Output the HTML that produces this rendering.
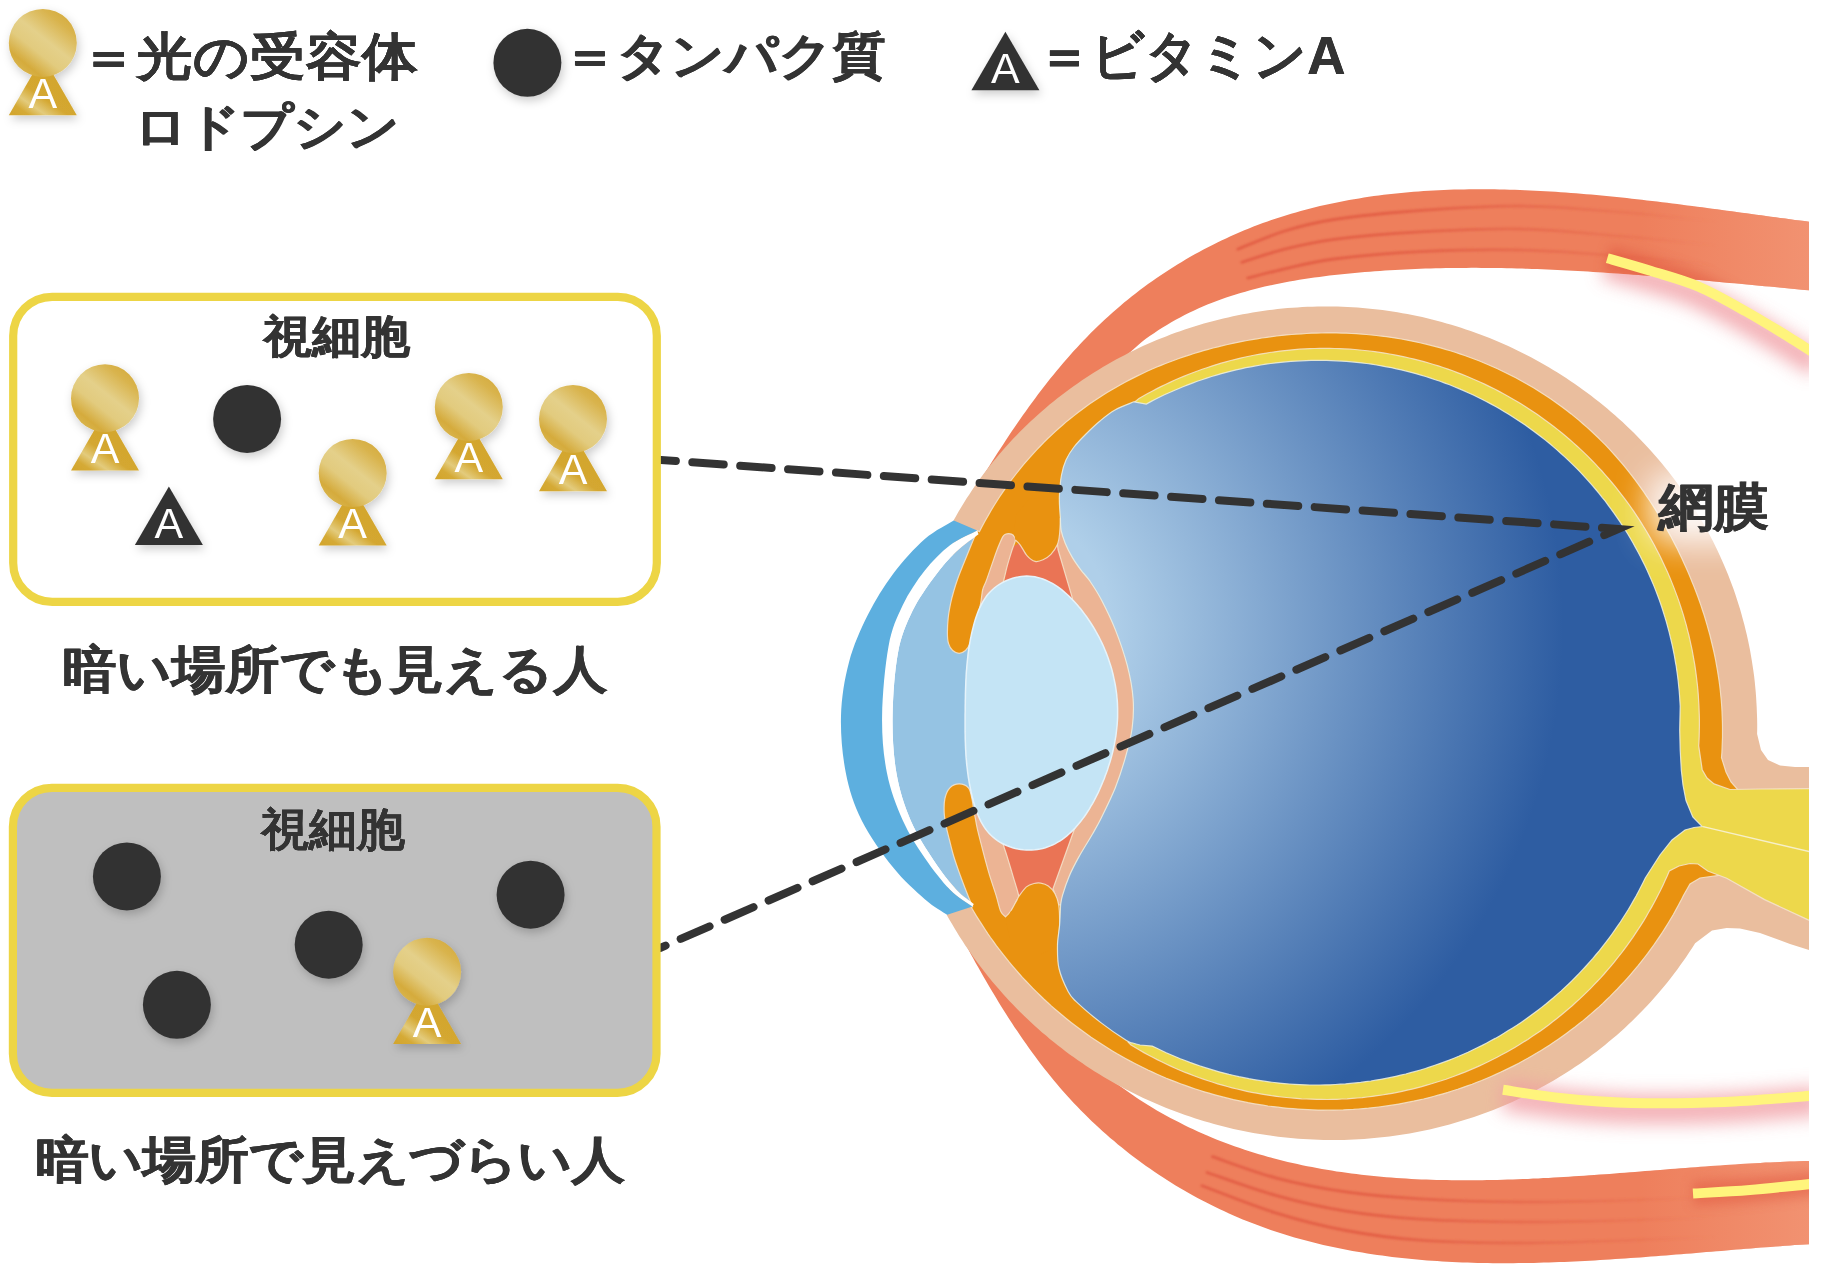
<!DOCTYPE html><html><head><meta charset="utf-8"><title>視細胞とロドプシン</title><style>
html,body{margin:0;padding:0;background:#FFFFFF;}
body{width:1822px;height:1265px;position:relative;overflow:hidden;font-family:"Liberation Sans",sans-serif;}
svg{position:absolute;left:0;top:0;}
.A{font-family:"Liberation Sans",sans-serif;font-size:43px;fill:#FFFFFF;}
.t{position:absolute;transform-origin:0 0;white-space:nowrap;color:#333333;font-weight:bold;line-height:1;text-shadow:0.3px 0 0 #333,-0.3px 0 0 #333;}
</style></head><body>
<svg width="1822" height="1265" viewBox="0 0 1822 1265">
<defs>
<radialGradient id="vg" gradientUnits="userSpaceOnUse" cx="987" cy="627" r="576">
<stop offset="0.215" stop-color="#AFCFE9"/><stop offset="1" stop-color="#2E5DA2"/>
</radialGradient>
<linearGradient id="gc" x1="0.85" y1="0.08" x2="0.18" y2="0.92">
<stop offset="0" stop-color="#D5AC3E"/><stop offset="0.15" stop-color="#D9B44E"/><stop offset="0.45" stop-color="#E4D08A"/>
<stop offset="0.65" stop-color="#E2CB7E"/><stop offset="0.88" stop-color="#D5AB3C"/><stop offset="1" stop-color="#D9B54E"/>
</linearGradient>
<linearGradient id="gt" x1="0.9" y1="0" x2="0.1" y2="1">
<stop offset="0" stop-color="#D9B54A"/><stop offset="0.35" stop-color="#D3A62E"/><stop offset="0.62" stop-color="#D4A730"/>
<stop offset="0.78" stop-color="#E3CB7C"/><stop offset="0.9" stop-color="#D5AA36"/><stop offset="1" stop-color="#D3A62E"/>
</linearGradient>
<radialGradient id="lg" gradientUnits="userSpaceOnUse" cx="1712" cy="508" r="100">
<stop offset="0" stop-color="#FFFFFF" stop-opacity="1"/><stop offset="0.5" stop-color="#FFFFFF" stop-opacity="0.95"/>
<stop offset="1" stop-color="#FFFFFF" stop-opacity="0"/>
</radialGradient>
<linearGradient id="mg" gradientUnits="userSpaceOnUse" x1="1640" y1="0" x2="1809" y2="0">
<stop offset="0" stop-color="#F39A7A" stop-opacity="0"/><stop offset="1" stop-color="#F39A7A" stop-opacity="1"/>
</linearGradient>
<filter id="sh" x="-30%" y="-30%" width="160%" height="160%">
<feDropShadow dx="2" dy="4" stdDeviation="5" flood-color="#000" flood-opacity="0.2"/>
</filter>
<filter id="bl6" filterUnits="userSpaceOnUse" x="800" y="0" width="1022" height="1265"><feGaussianBlur stdDeviation="6"/></filter>
<filter id="bl12" filterUnits="userSpaceOnUse" x="800" y="0" width="1022" height="1265"><feGaussianBlur stdDeviation="17"/></filter>
<filter id="bl9" filterUnits="userSpaceOnUse" x="800" y="0" width="1022" height="1265"><feGaussianBlur stdDeviation="9"/></filter>
<filter id="bl2" filterUnits="userSpaceOnUse" x="800" y="0" width="1022" height="1265"><feGaussianBlur stdDeviation="1.2"/></filter>
<linearGradient id="sg" gradientUnits="userSpaceOnUse" x1="1380" y1="0" x2="1720" y2="0"><stop offset="0" stop-color="#E0563F" stop-opacity="0.8"/><stop offset="1" stop-color="#E0563F" stop-opacity="0"/></linearGradient>
<clipPath id="midclip"><rect x="1300" y="1000" width="520" height="163"/></clipPath>
<clipPath id="eyeclip"><rect x="0" y="0" width="1809" height="1265"/></clipPath>
<clipPath id="tmclip"><path d="M979.3,482.0L981.9,477.8L984.5,473.6L987.1,469.4L989.8,465.2L992.4,461.0L995.1,456.8L997.8,452.6L1000.5,448.4L1003.3,444.2L1006.0,440.0L1008.8,435.8L1011.6,431.6L1014.4,427.5L1017.3,423.3L1020.1,419.2L1023.0,415.0L1026.0,410.9L1028.9,406.8L1031.9,402.8L1034.9,398.7L1037.9,394.6L1041.0,390.6L1044.1,386.6L1047.2,382.6L1050.3,378.6L1053.5,374.7L1056.7,370.8L1059.9,366.9L1063.2,363.0L1066.5,359.2L1069.8,355.4L1073.2,351.6L1076.6,347.9L1080.0,344.2L1083.5,340.5L1087.0,336.9L1090.5,333.3L1094.1,329.7L1097.7,326.2L1101.4,322.7L1105.1,319.3L1108.8,315.9L1112.6,312.5L1116.4,309.2L1120.2,305.9L1124.1,302.6L1128.0,299.5L1131.9,296.3L1135.9,293.2L1139.9,290.1L1144.0,287.1L1148.0,284.1L1152.1,281.2L1156.3,278.3L1160.4,275.5L1164.6,272.7L1168.8,269.9L1173.1,267.2L1177.4,264.5L1181.7,261.9L1186.0,259.3L1190.3,256.8L1194.7,254.3L1199.1,251.9L1203.5,249.5L1208.0,247.2L1212.5,244.9L1216.9,242.7L1221.4,240.5L1226.0,238.4L1230.5,236.3L1235.1,234.3L1239.7,232.3L1244.3,230.3L1248.9,228.5L1253.5,226.6L1258.2,224.8L1262.8,223.1L1267.5,221.4L1272.2,219.8L1276.9,218.2L1281.7,216.7L1286.4,215.2L1291.1,213.8L1295.9,212.4L1300.7,211.0L1305.5,209.7L1310.3,208.5L1315.1,207.3L1319.9,206.1L1324.8,205.0L1329.6,203.9L1334.5,202.9L1339.4,201.9L1344.2,201.0L1349.1,200.1L1354.0,199.2L1359.0,198.4L1363.9,197.6L1368.8,196.8L1373.8,196.1L1378.7,195.5L1383.7,194.8L1388.6,194.2L1393.6,193.7L1398.6,193.2L1403.6,192.7L1408.6,192.2L1413.6,191.8L1418.6,191.4L1423.6,191.1L1428.7,190.7L1433.7,190.5L1438.7,190.2L1443.8,190.0L1448.8,189.8L1453.9,189.6L1458.9,189.5L1464.0,189.4L1469.1,189.3L1474.2,189.3L1479.2,189.2L1484.3,189.2L1489.4,189.3L1494.5,189.3L1499.6,189.4L1504.7,189.5L1509.7,189.7L1514.8,189.8L1519.9,190.0L1525.0,190.2L1530.1,190.4L1535.2,190.7L1540.3,190.9L1545.4,191.2L1550.5,191.5L1555.6,191.8L1560.7,192.2L1565.8,192.5L1570.9,192.9L1576.0,193.3L1581.1,193.7L1586.2,194.2L1591.3,194.6L1596.4,195.1L1601.4,195.6L1606.5,196.1L1611.6,196.6L1616.7,197.1L1621.8,197.6L1626.8,198.1L1631.9,198.7L1636.9,199.3L1642.0,199.8L1647.0,200.4L1652.1,201.0L1657.1,201.6L1662.1,202.2L1667.2,202.8L1672.2,203.5L1677.2,204.1L1682.2,204.7L1687.2,205.4L1692.2,206.0L1697.2,206.7L1702.2,207.3L1707.1,208.0L1712.1,208.7L1717.0,209.3L1722.0,210.0L1726.9,210.7L1731.8,211.3L1736.7,212.0L1741.6,212.7L1746.5,213.3L1751.4,214.0L1756.3,214.7L1761.1,215.3L1766.0,216.0L1770.8,216.7L1775.6,217.3L1780.4,218.0L1785.2,218.6L1790.0,219.2L1794.8,219.9L1799.6,220.5L1804.3,221.1L1809.0,221.7L1813.8,222.3L1814.6,290.8L1809.6,290.3L1804.7,289.9L1799.7,289.4L1794.7,289.0L1789.7,288.5L1784.7,288.0L1779.7,287.6L1774.7,287.1L1769.7,286.6L1764.7,286.2L1759.7,285.7L1754.7,285.2L1749.7,284.7L1744.6,284.3L1739.6,283.8L1734.6,283.3L1729.6,282.9L1724.5,282.4L1719.5,281.9L1714.5,281.5L1709.4,281.0L1704.4,280.6L1699.4,280.1L1694.3,279.7L1689.3,279.2L1684.2,278.8L1679.2,278.3L1674.1,277.9L1669.1,277.5L1664.0,277.1L1659.0,276.6L1653.9,276.2L1648.9,275.8L1643.8,275.4L1638.7,275.0L1633.7,274.7L1628.6,274.3L1623.5,273.9L1618.5,273.6L1613.4,273.2L1608.3,272.9L1603.3,272.5L1598.2,272.2L1593.1,271.9L1588.0,271.6L1583.0,271.3L1577.9,271.0L1572.8,270.7L1567.7,270.4L1562.6,270.2L1557.6,269.9L1552.5,269.7L1547.4,269.5L1542.3,269.3L1537.3,269.1L1532.2,268.9L1527.1,268.7L1522.0,268.6L1516.9,268.4L1511.8,268.3L1506.8,268.2L1501.7,268.1L1496.6,268.0L1491.5,268.0L1486.4,267.9L1481.4,267.9L1476.3,267.8L1471.2,267.8L1466.1,267.9L1461.0,267.9L1456.0,267.9L1450.9,268.0L1445.8,268.1L1440.7,268.2L1435.7,268.3L1430.6,268.4L1425.5,268.6L1420.4,268.8L1415.4,269.0L1410.3,269.2L1405.2,269.4L1400.2,269.7L1395.1,270.0L1390.0,270.3L1385.0,270.6L1379.9,270.9L1374.8,271.3L1369.8,271.7L1364.7,272.1L1359.7,272.5L1354.6,273.0L1349.6,273.4L1344.5,273.9L1339.5,274.5L1334.4,275.0L1329.4,275.6L1324.4,276.2L1319.3,276.9L1314.3,277.6L1309.3,278.3L1304.3,279.0L1299.3,279.8L1294.3,280.7L1289.4,281.6L1284.4,282.5L1279.5,283.4L1274.5,284.5L1269.6,285.5L1264.7,286.6L1259.8,287.8L1255.0,289.0L1250.1,290.3L1245.3,291.7L1240.5,293.1L1235.7,294.5L1230.9,296.0L1226.2,297.6L1221.4,299.3L1216.7,301.0L1212.1,302.8L1207.4,304.6L1202.8,306.6L1198.2,308.6L1193.6,310.7L1189.1,312.8L1184.6,315.1L1180.1,317.4L1175.7,319.8L1171.3,322.3L1166.9,324.9L1162.6,327.5L1158.2,330.3L1154.0,333.2L1149.7,336.1L1145.5,339.1L1141.4,342.3L1110,370L1060,410L1015,448Z"/></clipPath>
<clipPath id="bmclip"><path d="M966.2,945.5L968.5,949.8L970.9,954.2L973.3,958.6L975.7,962.9L978.2,967.3L980.6,971.6L983.1,976.0L985.6,980.3L988.2,984.7L990.7,989.0L993.3,993.3L995.9,997.6L998.5,1001.9L1001.1,1006.2L1003.8,1010.5L1006.5,1014.8L1009.2,1019.0L1012.0,1023.2L1014.7,1027.4L1017.6,1031.6L1020.4,1035.8L1023.3,1040.0L1026.2,1044.1L1029.1,1048.2L1032.0,1052.3L1035.0,1056.3L1038.1,1060.4L1041.1,1064.4L1044.2,1068.4L1047.3,1072.3L1050.5,1076.3L1053.7,1080.2L1056.9,1084.0L1060.2,1087.9L1063.5,1091.7L1066.9,1095.5L1070.3,1099.2L1073.7,1102.9L1077.2,1106.6L1080.7,1110.2L1084.3,1113.8L1087.8,1117.3L1091.5,1120.9L1095.1,1124.3L1098.9,1127.8L1102.6,1131.2L1106.4,1134.5L1110.2,1137.9L1114.1,1141.1L1117.9,1144.4L1121.9,1147.6L1125.8,1150.7L1129.8,1153.9L1133.8,1156.9L1137.9,1160.0L1141.9,1163.0L1146.0,1165.9L1150.2,1168.8L1154.4,1171.7L1158.5,1174.5L1162.8,1177.3L1167.0,1180.0L1171.3,1182.7L1175.6,1185.4L1179.9,1187.9L1184.3,1190.5L1188.6,1193.0L1193.0,1195.5L1197.5,1197.9L1201.9,1200.2L1206.4,1202.6L1210.8,1204.8L1215.3,1207.0L1219.9,1209.2L1224.4,1211.3L1229.0,1213.4L1233.5,1215.4L1238.1,1217.4L1242.7,1219.4L1247.4,1221.2L1252.0,1223.1L1256.7,1224.8L1261.3,1226.6L1266.0,1228.2L1270.7,1229.9L1275.4,1231.5L1280.1,1233.0L1284.9,1234.5L1289.6,1236.0L1294.4,1237.4L1299.2,1238.7L1304.0,1240.0L1308.8,1241.3L1313.6,1242.5L1318.4,1243.7L1323.2,1244.9L1328.1,1246.0L1333.0,1247.1L1337.8,1248.1L1342.7,1249.1L1347.6,1250.0L1352.5,1250.9L1357.4,1251.8L1362.3,1252.6L1367.3,1253.5L1372.2,1254.2L1377.2,1254.9L1382.1,1255.6L1387.1,1256.3L1392.1,1256.9L1397.0,1257.5L1402.0,1258.1L1407.0,1258.6L1412.0,1259.1L1417.1,1259.6L1422.1,1260.0L1427.1,1260.4L1432.1,1260.8L1437.2,1261.1L1442.2,1261.4L1447.3,1261.7L1452.3,1262.0L1457.4,1262.2L1462.4,1262.4L1467.5,1262.6L1472.6,1262.8L1477.6,1262.9L1482.7,1263.0L1487.8,1263.1L1492.9,1263.2L1498.0,1263.2L1503.1,1263.2L1508.2,1263.2L1513.3,1263.2L1518.4,1263.1L1523.5,1263.1L1528.6,1263.0L1533.7,1262.9L1538.8,1262.8L1543.9,1262.6L1549.0,1262.5L1554.1,1262.3L1559.2,1262.1L1564.3,1261.9L1569.4,1261.7L1574.5,1261.5L1579.6,1261.2L1584.7,1261.0L1589.8,1260.7L1594.9,1260.4L1600.0,1260.1L1605.1,1259.8L1610.2,1259.5L1615.3,1259.1L1620.4,1258.8L1625.4,1258.5L1630.5,1258.1L1635.6,1257.7L1640.7,1257.4L1645.7,1257.0L1650.8,1256.6L1655.9,1256.2L1660.9,1255.8L1666.0,1255.4L1671.0,1255.0L1676.0,1254.6L1681.1,1254.2L1686.1,1253.8L1691.1,1253.4L1696.1,1252.9L1701.1,1252.5L1706.1,1252.1L1711.1,1251.7L1716.1,1251.3L1721.1,1250.9L1726.0,1250.4L1731.0,1250.0L1736.0,1249.6L1740.9,1249.2L1745.8,1248.8L1750.7,1248.4L1755.7,1248.0L1760.6,1247.6L1765.5,1247.3L1770.3,1246.9L1775.2,1246.5L1780.1,1246.2L1784.9,1245.8L1789.8,1245.5L1794.6,1245.1L1799.4,1244.8L1804.2,1244.5L1809.0,1244.2L1813.8,1243.9L1814.2,1160.9L1809.3,1161.0L1804.5,1161.1L1799.6,1161.2L1794.7,1161.4L1789.8,1161.6L1784.9,1161.7L1780.0,1162.0L1775.1,1162.2L1770.2,1162.4L1765.3,1162.6L1760.3,1162.9L1755.4,1163.2L1750.4,1163.5L1745.5,1163.7L1740.5,1164.1L1735.5,1164.4L1730.5,1164.7L1725.6,1165.0L1720.6,1165.4L1715.6,1165.7L1710.6,1166.1L1705.5,1166.4L1700.5,1166.8L1695.5,1167.2L1690.5,1167.6L1685.5,1168.0L1680.4,1168.3L1675.4,1168.7L1670.3,1169.1L1665.3,1169.5L1660.2,1169.9L1655.2,1170.3L1650.1,1170.7L1645.0,1171.1L1640.0,1171.5L1634.9,1171.9L1629.8,1172.3L1624.7,1172.7L1619.7,1173.1L1614.6,1173.5L1609.5,1173.9L1604.4,1174.2L1599.3,1174.6L1594.2,1175.0L1589.1,1175.3L1584.0,1175.7L1578.9,1176.0L1573.8,1176.3L1568.7,1176.7L1563.7,1177.0L1558.6,1177.3L1553.5,1177.6L1548.4,1177.9L1543.3,1178.1L1538.2,1178.4L1533.1,1178.6L1528.0,1178.9L1522.9,1179.1L1517.8,1179.3L1512.7,1179.5L1507.6,1179.6L1502.5,1179.8L1497.4,1179.9L1492.3,1180.0L1487.2,1180.1L1482.2,1180.2L1477.1,1180.2L1472.0,1180.3L1466.9,1180.3L1461.8,1180.3L1456.8,1180.3L1451.7,1180.2L1446.7,1180.1L1441.6,1180.0L1436.5,1179.9L1431.5,1179.8L1426.5,1179.6L1421.4,1179.4L1416.4,1179.2L1411.3,1178.9L1406.3,1178.6L1401.3,1178.3L1396.3,1178.0L1391.3,1177.6L1386.3,1177.2L1381.3,1176.8L1376.3,1176.3L1371.3,1175.8L1366.3,1175.3L1361.4,1174.7L1356.4,1174.1L1351.4,1173.5L1346.5,1172.8L1341.5,1172.1L1336.6,1171.4L1331.7,1170.6L1326.8,1169.8L1321.9,1169.0L1316.9,1168.1L1312.1,1167.1L1307.2,1166.2L1302.3,1165.2L1297.4,1164.1L1292.6,1163.0L1287.7,1161.9L1282.9,1160.7L1278.1,1159.5L1273.3,1158.2L1268.4,1156.9L1263.7,1155.6L1258.9,1154.2L1254.1,1152.7L1249.3,1151.2L1244.6,1149.7L1239.9,1148.1L1235.1,1146.4L1230.4,1144.7L1225.7,1143.0L1221.0,1141.2L1216.4,1139.4L1211.7,1137.5L1207.1,1135.5L1202.4,1133.5L1197.8,1131.4L1193.2,1129.3L1188.6,1127.2L1184.1,1124.9L1179.5,1122.6L1175.0,1120.3L1170.4,1117.9L1165.9,1115.4L1161.4,1112.9L1156.9,1110.4L1152.5,1107.7L1148.0,1105.0L1143.6,1102.3L1139.2,1099.4L1134.8,1096.6L1100,1072L1050,1030L1000,985Z"/></clipPath>
</defs>
<rect x="13.2" y="296.8" width="643.6" height="305.1" rx="39" fill="#FFFFFF"/>
<rect x="12.9" y="787.8" width="643.6" height="305" rx="39" fill="#BFBFBF"/>
<g clip-path="url(#eyeclip)">
<path d="M1607.3,258.2C1614.6,260.3 1636,266.3 1651.2,271C1666.4,275.7 1682.8,279.9 1698.6,286.6C1714.4,293.4 1730.2,302.6 1746,311.5C1761.8,320.4 1781.2,332.4 1793.5,340C1805.8,347.6 1815.6,354.2 1820,357" fill="none" stroke="#F09AA0" stroke-width="24" opacity="0.8" filter="url(#bl9)" transform="translate(-3,8)"/>
<path d="M979.3,482.0L981.9,477.8L984.5,473.6L987.1,469.4L989.8,465.2L992.4,461.0L995.1,456.8L997.8,452.6L1000.5,448.4L1003.3,444.2L1006.0,440.0L1008.8,435.8L1011.6,431.6L1014.4,427.5L1017.3,423.3L1020.1,419.2L1023.0,415.0L1026.0,410.9L1028.9,406.8L1031.9,402.8L1034.9,398.7L1037.9,394.6L1041.0,390.6L1044.1,386.6L1047.2,382.6L1050.3,378.6L1053.5,374.7L1056.7,370.8L1059.9,366.9L1063.2,363.0L1066.5,359.2L1069.8,355.4L1073.2,351.6L1076.6,347.9L1080.0,344.2L1083.5,340.5L1087.0,336.9L1090.5,333.3L1094.1,329.7L1097.7,326.2L1101.4,322.7L1105.1,319.3L1108.8,315.9L1112.6,312.5L1116.4,309.2L1120.2,305.9L1124.1,302.6L1128.0,299.5L1131.9,296.3L1135.9,293.2L1139.9,290.1L1144.0,287.1L1148.0,284.1L1152.1,281.2L1156.3,278.3L1160.4,275.5L1164.6,272.7L1168.8,269.9L1173.1,267.2L1177.4,264.5L1181.7,261.9L1186.0,259.3L1190.3,256.8L1194.7,254.3L1199.1,251.9L1203.5,249.5L1208.0,247.2L1212.5,244.9L1216.9,242.7L1221.4,240.5L1226.0,238.4L1230.5,236.3L1235.1,234.3L1239.7,232.3L1244.3,230.3L1248.9,228.5L1253.5,226.6L1258.2,224.8L1262.8,223.1L1267.5,221.4L1272.2,219.8L1276.9,218.2L1281.7,216.7L1286.4,215.2L1291.1,213.8L1295.9,212.4L1300.7,211.0L1305.5,209.7L1310.3,208.5L1315.1,207.3L1319.9,206.1L1324.8,205.0L1329.6,203.9L1334.5,202.9L1339.4,201.9L1344.2,201.0L1349.1,200.1L1354.0,199.2L1359.0,198.4L1363.9,197.6L1368.8,196.8L1373.8,196.1L1378.7,195.5L1383.7,194.8L1388.6,194.2L1393.6,193.7L1398.6,193.2L1403.6,192.7L1408.6,192.2L1413.6,191.8L1418.6,191.4L1423.6,191.1L1428.7,190.7L1433.7,190.5L1438.7,190.2L1443.8,190.0L1448.8,189.8L1453.9,189.6L1458.9,189.5L1464.0,189.4L1469.1,189.3L1474.2,189.3L1479.2,189.2L1484.3,189.2L1489.4,189.3L1494.5,189.3L1499.6,189.4L1504.7,189.5L1509.7,189.7L1514.8,189.8L1519.9,190.0L1525.0,190.2L1530.1,190.4L1535.2,190.7L1540.3,190.9L1545.4,191.2L1550.5,191.5L1555.6,191.8L1560.7,192.2L1565.8,192.5L1570.9,192.9L1576.0,193.3L1581.1,193.7L1586.2,194.2L1591.3,194.6L1596.4,195.1L1601.4,195.6L1606.5,196.1L1611.6,196.6L1616.7,197.1L1621.8,197.6L1626.8,198.1L1631.9,198.7L1636.9,199.3L1642.0,199.8L1647.0,200.4L1652.1,201.0L1657.1,201.6L1662.1,202.2L1667.2,202.8L1672.2,203.5L1677.2,204.1L1682.2,204.7L1687.2,205.4L1692.2,206.0L1697.2,206.7L1702.2,207.3L1707.1,208.0L1712.1,208.7L1717.0,209.3L1722.0,210.0L1726.9,210.7L1731.8,211.3L1736.7,212.0L1741.6,212.7L1746.5,213.3L1751.4,214.0L1756.3,214.7L1761.1,215.3L1766.0,216.0L1770.8,216.7L1775.6,217.3L1780.4,218.0L1785.2,218.6L1790.0,219.2L1794.8,219.9L1799.6,220.5L1804.3,221.1L1809.0,221.7L1813.8,222.3L1814.6,290.8L1809.6,290.3L1804.7,289.9L1799.7,289.4L1794.7,289.0L1789.7,288.5L1784.7,288.0L1779.7,287.6L1774.7,287.1L1769.7,286.6L1764.7,286.2L1759.7,285.7L1754.7,285.2L1749.7,284.7L1744.6,284.3L1739.6,283.8L1734.6,283.3L1729.6,282.9L1724.5,282.4L1719.5,281.9L1714.5,281.5L1709.4,281.0L1704.4,280.6L1699.4,280.1L1694.3,279.7L1689.3,279.2L1684.2,278.8L1679.2,278.3L1674.1,277.9L1669.1,277.5L1664.0,277.1L1659.0,276.6L1653.9,276.2L1648.9,275.8L1643.8,275.4L1638.7,275.0L1633.7,274.7L1628.6,274.3L1623.5,273.9L1618.5,273.6L1613.4,273.2L1608.3,272.9L1603.3,272.5L1598.2,272.2L1593.1,271.9L1588.0,271.6L1583.0,271.3L1577.9,271.0L1572.8,270.7L1567.7,270.4L1562.6,270.2L1557.6,269.9L1552.5,269.7L1547.4,269.5L1542.3,269.3L1537.3,269.1L1532.2,268.9L1527.1,268.7L1522.0,268.6L1516.9,268.4L1511.8,268.3L1506.8,268.2L1501.7,268.1L1496.6,268.0L1491.5,268.0L1486.4,267.9L1481.4,267.9L1476.3,267.8L1471.2,267.8L1466.1,267.9L1461.0,267.9L1456.0,267.9L1450.9,268.0L1445.8,268.1L1440.7,268.2L1435.7,268.3L1430.6,268.4L1425.5,268.6L1420.4,268.8L1415.4,269.0L1410.3,269.2L1405.2,269.4L1400.2,269.7L1395.1,270.0L1390.0,270.3L1385.0,270.6L1379.9,270.9L1374.8,271.3L1369.8,271.7L1364.7,272.1L1359.7,272.5L1354.6,273.0L1349.6,273.4L1344.5,273.9L1339.5,274.5L1334.4,275.0L1329.4,275.6L1324.4,276.2L1319.3,276.9L1314.3,277.6L1309.3,278.3L1304.3,279.0L1299.3,279.8L1294.3,280.7L1289.4,281.6L1284.4,282.5L1279.5,283.4L1274.5,284.5L1269.6,285.5L1264.7,286.6L1259.8,287.8L1255.0,289.0L1250.1,290.3L1245.3,291.7L1240.5,293.1L1235.7,294.5L1230.9,296.0L1226.2,297.6L1221.4,299.3L1216.7,301.0L1212.1,302.8L1207.4,304.6L1202.8,306.6L1198.2,308.6L1193.6,310.7L1189.1,312.8L1184.6,315.1L1180.1,317.4L1175.7,319.8L1171.3,322.3L1166.9,324.9L1162.6,327.5L1158.2,330.3L1154.0,333.2L1149.7,336.1L1145.5,339.1L1141.4,342.3L1110,370L1060,410L1015,448Z" fill="#EE7F5C"/>
<path d="M966.2,945.5L968.5,949.8L970.9,954.2L973.3,958.6L975.7,962.9L978.2,967.3L980.6,971.6L983.1,976.0L985.6,980.3L988.2,984.7L990.7,989.0L993.3,993.3L995.9,997.6L998.5,1001.9L1001.1,1006.2L1003.8,1010.5L1006.5,1014.8L1009.2,1019.0L1012.0,1023.2L1014.7,1027.4L1017.6,1031.6L1020.4,1035.8L1023.3,1040.0L1026.2,1044.1L1029.1,1048.2L1032.0,1052.3L1035.0,1056.3L1038.1,1060.4L1041.1,1064.4L1044.2,1068.4L1047.3,1072.3L1050.5,1076.3L1053.7,1080.2L1056.9,1084.0L1060.2,1087.9L1063.5,1091.7L1066.9,1095.5L1070.3,1099.2L1073.7,1102.9L1077.2,1106.6L1080.7,1110.2L1084.3,1113.8L1087.8,1117.3L1091.5,1120.9L1095.1,1124.3L1098.9,1127.8L1102.6,1131.2L1106.4,1134.5L1110.2,1137.9L1114.1,1141.1L1117.9,1144.4L1121.9,1147.6L1125.8,1150.7L1129.8,1153.9L1133.8,1156.9L1137.9,1160.0L1141.9,1163.0L1146.0,1165.9L1150.2,1168.8L1154.4,1171.7L1158.5,1174.5L1162.8,1177.3L1167.0,1180.0L1171.3,1182.7L1175.6,1185.4L1179.9,1187.9L1184.3,1190.5L1188.6,1193.0L1193.0,1195.5L1197.5,1197.9L1201.9,1200.2L1206.4,1202.6L1210.8,1204.8L1215.3,1207.0L1219.9,1209.2L1224.4,1211.3L1229.0,1213.4L1233.5,1215.4L1238.1,1217.4L1242.7,1219.4L1247.4,1221.2L1252.0,1223.1L1256.7,1224.8L1261.3,1226.6L1266.0,1228.2L1270.7,1229.9L1275.4,1231.5L1280.1,1233.0L1284.9,1234.5L1289.6,1236.0L1294.4,1237.4L1299.2,1238.7L1304.0,1240.0L1308.8,1241.3L1313.6,1242.5L1318.4,1243.7L1323.2,1244.9L1328.1,1246.0L1333.0,1247.1L1337.8,1248.1L1342.7,1249.1L1347.6,1250.0L1352.5,1250.9L1357.4,1251.8L1362.3,1252.6L1367.3,1253.5L1372.2,1254.2L1377.2,1254.9L1382.1,1255.6L1387.1,1256.3L1392.1,1256.9L1397.0,1257.5L1402.0,1258.1L1407.0,1258.6L1412.0,1259.1L1417.1,1259.6L1422.1,1260.0L1427.1,1260.4L1432.1,1260.8L1437.2,1261.1L1442.2,1261.4L1447.3,1261.7L1452.3,1262.0L1457.4,1262.2L1462.4,1262.4L1467.5,1262.6L1472.6,1262.8L1477.6,1262.9L1482.7,1263.0L1487.8,1263.1L1492.9,1263.2L1498.0,1263.2L1503.1,1263.2L1508.2,1263.2L1513.3,1263.2L1518.4,1263.1L1523.5,1263.1L1528.6,1263.0L1533.7,1262.9L1538.8,1262.8L1543.9,1262.6L1549.0,1262.5L1554.1,1262.3L1559.2,1262.1L1564.3,1261.9L1569.4,1261.7L1574.5,1261.5L1579.6,1261.2L1584.7,1261.0L1589.8,1260.7L1594.9,1260.4L1600.0,1260.1L1605.1,1259.8L1610.2,1259.5L1615.3,1259.1L1620.4,1258.8L1625.4,1258.5L1630.5,1258.1L1635.6,1257.7L1640.7,1257.4L1645.7,1257.0L1650.8,1256.6L1655.9,1256.2L1660.9,1255.8L1666.0,1255.4L1671.0,1255.0L1676.0,1254.6L1681.1,1254.2L1686.1,1253.8L1691.1,1253.4L1696.1,1252.9L1701.1,1252.5L1706.1,1252.1L1711.1,1251.7L1716.1,1251.3L1721.1,1250.9L1726.0,1250.4L1731.0,1250.0L1736.0,1249.6L1740.9,1249.2L1745.8,1248.8L1750.7,1248.4L1755.7,1248.0L1760.6,1247.6L1765.5,1247.3L1770.3,1246.9L1775.2,1246.5L1780.1,1246.2L1784.9,1245.8L1789.8,1245.5L1794.6,1245.1L1799.4,1244.8L1804.2,1244.5L1809.0,1244.2L1813.8,1243.9L1814.2,1160.9L1809.3,1161.0L1804.5,1161.1L1799.6,1161.2L1794.7,1161.4L1789.8,1161.6L1784.9,1161.7L1780.0,1162.0L1775.1,1162.2L1770.2,1162.4L1765.3,1162.6L1760.3,1162.9L1755.4,1163.2L1750.4,1163.5L1745.5,1163.7L1740.5,1164.1L1735.5,1164.4L1730.5,1164.7L1725.6,1165.0L1720.6,1165.4L1715.6,1165.7L1710.6,1166.1L1705.5,1166.4L1700.5,1166.8L1695.5,1167.2L1690.5,1167.6L1685.5,1168.0L1680.4,1168.3L1675.4,1168.7L1670.3,1169.1L1665.3,1169.5L1660.2,1169.9L1655.2,1170.3L1650.1,1170.7L1645.0,1171.1L1640.0,1171.5L1634.9,1171.9L1629.8,1172.3L1624.7,1172.7L1619.7,1173.1L1614.6,1173.5L1609.5,1173.9L1604.4,1174.2L1599.3,1174.6L1594.2,1175.0L1589.1,1175.3L1584.0,1175.7L1578.9,1176.0L1573.8,1176.3L1568.7,1176.7L1563.7,1177.0L1558.6,1177.3L1553.5,1177.6L1548.4,1177.9L1543.3,1178.1L1538.2,1178.4L1533.1,1178.6L1528.0,1178.9L1522.9,1179.1L1517.8,1179.3L1512.7,1179.5L1507.6,1179.6L1502.5,1179.8L1497.4,1179.9L1492.3,1180.0L1487.2,1180.1L1482.2,1180.2L1477.1,1180.2L1472.0,1180.3L1466.9,1180.3L1461.8,1180.3L1456.8,1180.3L1451.7,1180.2L1446.7,1180.1L1441.6,1180.0L1436.5,1179.9L1431.5,1179.8L1426.5,1179.6L1421.4,1179.4L1416.4,1179.2L1411.3,1178.9L1406.3,1178.6L1401.3,1178.3L1396.3,1178.0L1391.3,1177.6L1386.3,1177.2L1381.3,1176.8L1376.3,1176.3L1371.3,1175.8L1366.3,1175.3L1361.4,1174.7L1356.4,1174.1L1351.4,1173.5L1346.5,1172.8L1341.5,1172.1L1336.6,1171.4L1331.7,1170.6L1326.8,1169.8L1321.9,1169.0L1316.9,1168.1L1312.1,1167.1L1307.2,1166.2L1302.3,1165.2L1297.4,1164.1L1292.6,1163.0L1287.7,1161.9L1282.9,1160.7L1278.1,1159.5L1273.3,1158.2L1268.4,1156.9L1263.7,1155.6L1258.9,1154.2L1254.1,1152.7L1249.3,1151.2L1244.6,1149.7L1239.9,1148.1L1235.1,1146.4L1230.4,1144.7L1225.7,1143.0L1221.0,1141.2L1216.4,1139.4L1211.7,1137.5L1207.1,1135.5L1202.4,1133.5L1197.8,1131.4L1193.2,1129.3L1188.6,1127.2L1184.1,1124.9L1179.5,1122.6L1175.0,1120.3L1170.4,1117.9L1165.9,1115.4L1161.4,1112.9L1156.9,1110.4L1152.5,1107.7L1148.0,1105.0L1143.6,1102.3L1139.2,1099.4L1134.8,1096.6L1100,1072L1050,1030L1000,985Z" fill="#EE7F5C"/>
<g clip-path="url(#tmclip)">
<path d="M1237.7,249.2C1245.5,246.2 1268.7,235.9 1284.7,231C1300.8,226.1 1311.5,222.9 1334,219.5C1356.5,216.1 1389,212.8 1420,210.5C1451,208.2 1486.7,205.8 1520,206C1553.3,206.2 1586.7,209.3 1620,212C1653.3,214.7 1703.3,220.3 1720,222" fill="none" stroke="url(#sg)" stroke-width="2.8" stroke-linecap="round" filter="url(#bl2)"/>
<path d="M1241.8,262.3C1249,260.1 1269.3,253 1284.7,249.2C1300.1,245.4 1311.5,242.2 1334,239.3C1356.5,236.4 1389,233.6 1420,231.9C1451,230.2 1486.7,228.3 1520,229C1553.3,229.7 1586.7,233.2 1620,236C1653.3,238.8 1703.3,244.3 1720,246" fill="none" stroke="url(#sg)" stroke-width="2.8" stroke-linecap="round" filter="url(#bl2)"/>
<path d="M1247.6,278C1253.8,276.5 1270.3,272.1 1284.7,268.9C1299.1,265.7 1311.5,261.9 1334,259C1356.5,256.1 1389,253.1 1420,251.6C1451,250.1 1486.7,249.3 1520,250C1553.3,250.7 1586.7,253.3 1620,256C1653.3,258.7 1703.3,264.3 1720,266" fill="none" stroke="url(#sg)" stroke-width="2.8" stroke-linecap="round" filter="url(#bl2)"/>
<rect x="1600" y="180" width="215" height="130" fill="url(#mg)" opacity="0.7"/>
<path d="M1607.3,258.2C1614.6,260.3 1636,266.3 1651.2,271C1666.4,275.7 1682.8,279.9 1698.6,286.6C1714.4,293.4 1730.2,302.6 1746,311.5C1761.8,320.4 1781.2,332.4 1793.5,340C1805.8,347.6 1815.6,354.2 1820,357" fill="none" stroke="#E0553E" stroke-width="26" opacity="0.5" filter="url(#bl6)"/>
</g><g clip-path="url(#bmclip)">
<path d="M1212.4,1156.7C1222.9,1160.2 1253.3,1171.9 1275.6,1177.8C1297.8,1183.7 1321.8,1188.4 1345.9,1191.9C1370,1195.4 1391,1197.2 1420,1198.9C1449,1200.6 1483.3,1201.8 1520,1202C1556.7,1202.2 1603.3,1201 1640,1200C1676.7,1199 1723.3,1196.7 1740,1196" fill="none" stroke="url(#sg)" stroke-width="2.8" stroke-linecap="round" filter="url(#bl2)"/>
<path d="M1207.1,1172.5C1218.5,1176.3 1252.5,1189 1275.6,1195.4C1298.7,1201.9 1321.8,1207.2 1345.9,1211.2C1370,1215.2 1391,1217.3 1420,1219.1C1449,1220.9 1483.3,1221.8 1520,1222C1556.7,1222.2 1603.3,1221 1640,1220C1676.7,1219 1723.3,1216.7 1740,1216" fill="none" stroke="url(#sg)" stroke-width="2.8" stroke-linecap="round" filter="url(#bl2)"/>
<path d="M1201.9,1185.7C1214.2,1190.2 1251.6,1205.4 1275.6,1212.9C1299.6,1220.4 1321.8,1226 1345.9,1230.5C1370,1235 1391,1238.1 1420,1240.2C1449,1242.3 1483.3,1243 1520,1243C1556.7,1243 1603.3,1241.2 1640,1240C1676.7,1238.8 1723.3,1236.7 1740,1236" fill="none" stroke="url(#sg)" stroke-width="2.8" stroke-linecap="round" filter="url(#bl2)"/>
<rect x="1600" y="1150" width="215" height="110" fill="url(#mg)" opacity="0.7"/>
<path d="M1693,1193.5C1702.5,1192.9 1728.8,1191.8 1750,1190C1771.2,1188.2 1808.3,1184.2 1820,1183" fill="none" stroke="#E0553E" stroke-width="24" opacity="0.5" filter="url(#bl6)"/>
</g>
<path d="M953.7,520.3L956.1,515.9L958.6,511.5L961.2,507.2L963.8,502.9L966.5,498.6L969.3,494.4L972.0,490.2L974.9,486.0L977.8,481.9L980.7,477.8L983.7,473.8L986.8,469.7L989.9,465.8L993.0,461.8L996.2,457.9L999.5,454.1L1002.8,450.3L1006.1,446.5L1009.5,442.8L1012.9,439.1L1016.4,435.4L1019.9,431.8L1023.5,428.3L1027.1,424.8L1030.7,421.3L1034.4,417.9L1038.2,414.5L1041.9,411.2L1045.7,407.9L1049.6,404.6L1053.5,401.5L1057.4,398.3L1061.4,395.2L1065.4,392.2L1069.4,389.2L1073.5,386.3L1077.6,383.4L1081.7,380.5L1085.9,377.7L1090.1,375.0L1094.4,372.3L1098.6,369.7L1102.9,367.1L1107.3,364.5L1111.6,362.0L1116.0,359.6L1120.4,357.2L1124.9,354.9L1129.3,352.6L1133.8,350.4L1138.3,348.2L1142.9,346.1L1147.5,344.1L1152.1,342.1L1156.7,340.1L1161.3,338.2L1166.0,336.4L1170.6,334.6L1175.3,332.8L1180.1,331.2L1184.8,329.5L1189.5,328.0L1194.3,326.4L1199.1,325.0L1203.9,323.6L1208.7,322.2L1213.6,320.9L1218.4,319.7L1223.3,318.5L1228.1,317.4L1233.0,316.3L1237.9,315.3L1242.8,314.3L1247.8,313.4L1252.7,312.5L1257.6,311.7L1262.6,311.0L1267.5,310.3L1272.5,309.7L1277.5,309.1L1282.5,308.6L1287.5,308.1L1292.4,307.7L1297.4,307.4L1302.4,307.1L1307.4,306.8L1312.5,306.7L1317.5,306.5L1322.5,306.5L1327.5,306.5L1332.5,306.5L1337.5,306.6L1342.5,306.8L1347.5,307.0L1352.6,307.3L1357.6,307.6L1362.6,308.0L1367.6,308.4L1372.6,308.9L1377.6,309.5L1382.5,310.1L1387.5,310.8L1392.5,311.5L1397.5,312.3L1402.4,313.2L1407.4,314.1L1412.3,315.0L1417.2,316.1L1422.2,317.1L1427.1,318.3L1432.0,319.5L1436.9,320.7L1441.7,322.0L1446.6,323.4L1451.4,324.8L1456.3,326.3L1461.1,327.8L1465.9,329.4L1470.7,331.0L1475.4,332.7L1480.2,334.5L1484.9,336.3L1489.6,338.1L1494.3,340.0L1499.0,342.0L1503.6,344.0L1508.2,346.1L1512.9,348.3L1517.4,350.4L1522.0,352.7L1526.5,355.0L1531.0,357.3L1535.5,359.8L1540.0,362.2L1544.4,364.7L1548.8,367.3L1553.2,369.9L1557.5,372.6L1561.8,375.3L1566.1,378.1L1570.4,380.9L1574.6,383.8L1578.8,386.7L1582.9,389.7L1587.1,392.7L1591.2,395.8L1595.2,398.9L1599.2,402.1L1603.2,405.3L1607.2,408.6L1611.1,411.9L1615.0,415.3L1618.8,418.7L1622.6,422.1L1626.4,425.7L1630.1,429.2L1633.8,432.8L1637.4,436.5L1641.0,440.2L1644.6,443.9L1648.1,447.7L1651.5,451.5L1655.0,455.4L1658.3,459.3L1661.7,463.3L1664.9,467.3L1668.2,471.3L1671.4,475.4L1674.5,479.5L1677.6,483.7L1680.6,487.9L1683.6,492.1L1686.6,496.4L1689.4,500.8L1692.3,505.1L1695.1,509.5L1697.8,514.0L1700.4,518.4L1703.1,522.9L1705.6,527.5L1708.1,532.0L1710.6,536.7L1713.0,541.3L1715.3,546.0L1717.6,550.7L1719.8,555.4L1721.9,560.2L1724.0,565.0L1726.0,569.8L1728.0,574.6L1729.9,579.5L1731.8,584.4L1733.6,589.3L1735.3,594.3L1736.9,599.3L1738.5,604.3L1740.1,609.3L1741.5,614.3L1742.9,619.4L1744.3,624.5L1745.5,629.6L1746.8,634.7L1747.9,639.8L1749.0,644.9L1750.0,650.1L1750.9,655.3L1751.8,660.5L1752.6,665.7L1753.4,670.9L1754.1,676.1L1754.7,681.3L1755.2,686.6L1755.7,691.8L1756.1,697.1L1756.4,702.3L1756.7,707.6L1756.9,712.9L1757.1,718.1L1757.2,723.4L1757.2,728.7L1757.1,733.9L1761.0,750.0L1768.0,760.0L1780.0,765.5L1795.0,767.0L1815.0,767.0L1815.0,952.0L1790.0,944.0L1760.0,933.0L1740.0,928.5L1726.7,928.0L1712.0,930.5L1695.1,943.3L1692.3,947.7L1689.4,952.1L1686.5,956.5L1683.5,960.8L1680.4,965.1L1677.3,969.4L1674.2,973.6L1671.0,977.8L1667.7,981.9L1664.4,986.0L1661.0,990.0L1657.6,994.0L1654.1,998.0L1650.6,1001.9L1647.1,1005.7L1643.5,1009.5L1639.8,1013.3L1636.1,1017.0L1632.4,1020.7L1628.6,1024.3L1624.8,1027.9L1620.9,1031.4L1617.0,1034.9L1613.0,1038.3L1609.0,1041.6L1605.0,1044.9L1600.9,1048.2L1596.8,1051.4L1592.6,1054.6L1588.4,1057.7L1584.2,1060.7L1580.0,1063.7L1575.7,1066.6L1571.3,1069.5L1567.0,1072.3L1562.6,1075.1L1558.1,1077.8L1553.7,1080.5L1549.2,1083.1L1544.7,1085.6L1540.1,1088.1L1535.6,1090.6L1531.0,1092.9L1526.4,1095.3L1521.7,1097.5L1517.0,1099.7L1512.3,1101.9L1507.6,1104.0L1502.9,1106.0L1498.1,1108.0L1493.3,1109.9L1488.5,1111.7L1483.7,1113.5L1478.9,1115.3L1474.0,1116.9L1469.1,1118.5L1464.2,1120.1L1459.3,1121.6L1454.4,1123.1L1449.5,1124.4L1444.5,1125.8L1439.6,1127.0L1434.6,1128.2L1429.6,1129.4L1424.6,1130.5L1419.6,1131.5L1414.6,1132.5L1409.6,1133.4L1404.5,1134.2L1399.5,1135.0L1394.5,1135.7L1389.4,1136.4L1384.4,1137.0L1379.3,1137.6L1374.2,1138.1L1369.2,1138.5L1364.1,1138.9L1359.0,1139.2L1354.0,1139.5L1348.9,1139.7L1343.8,1139.9L1338.8,1140.0L1333.7,1140.0L1328.6,1140.0L1323.6,1139.9L1318.5,1139.8L1313.4,1139.6L1308.4,1139.3L1303.3,1139.0L1298.3,1138.7L1293.3,1138.2L1288.2,1137.8L1283.2,1137.2L1278.2,1136.7L1273.2,1136.0L1268.2,1135.3L1263.2,1134.6L1258.2,1133.8L1253.3,1132.9L1248.3,1132.0L1243.4,1131.0L1238.4,1130.0L1233.5,1128.9L1228.6,1127.7L1223.7,1126.5L1218.8,1125.3L1214.0,1124.0L1209.1,1122.6L1204.3,1121.2L1199.5,1119.7L1194.7,1118.2L1189.9,1116.6L1185.1,1115.0L1180.4,1113.3L1175.7,1111.6L1171.0,1109.8L1166.3,1107.9L1161.6,1106.1L1157.0,1104.1L1152.4,1102.1L1147.8,1100.0L1143.2,1097.9L1138.7,1095.8L1134.2,1093.6L1129.7,1091.3L1125.2,1089.0L1120.8,1086.6L1116.3,1084.2L1112.0,1081.7L1107.6,1079.2L1103.3,1076.7L1099.0,1074.0L1094.7,1071.4L1090.5,1068.7L1086.2,1065.9L1082.1,1063.1L1077.9,1060.2L1073.8,1057.3L1069.7,1054.4L1065.7,1051.4L1061.7,1048.3L1057.7,1045.2L1053.7,1042.1L1049.8,1038.9L1046.0,1035.6L1042.1,1032.4L1038.3,1029.0L1034.6,1025.7L1030.9,1022.3L1027.2,1018.8L1023.5,1015.3L1019.9,1011.8L1016.4,1008.2L1012.9,1004.5L1009.4,1000.9L1006.0,997.2L1002.6,993.4L999.2,989.6L995.9,985.8L992.6,981.9L989.4,978.0L986.2,974.1L983.1,970.1L980.0,966.0L977.0,962.0L974.0,957.9L971.1,953.7L968.2,949.6L965.3,945.4L962.5,941.1L959.8,936.9L957.1,932.6L954.5,928.2L951.9,923.8L949.3,919.4L946.8,915.0Z" fill="#EABE9E"/>
<g clip-path="url(#midclip)"><path d="M1503,1089.7C1512.5,1091.1 1538.6,1095.8 1560,1098C1581.4,1100.2 1604.2,1102.3 1631.6,1103C1659,1103.7 1692.9,1103.3 1724.3,1102C1755.7,1100.7 1804,1096.2 1820,1095" fill="none" stroke="#F09AA0" stroke-width="30" opacity="0.75" filter="url(#bl9)" transform="translate(0,6)"/></g>
<path d="M978.5,534.2C974.8,537.1 963.8,544.5 956.4,551.6C949,558.7 941.7,566.9 934.3,576.9C926.9,586.9 918.2,599 912.2,611.6C906.2,624.2 901.3,635.3 898,652.7C894.7,670.1 892.9,696 892.6,716C892.3,736 893.4,755.4 896.4,772.8C899.4,790.2 904.3,805.5 910.6,820.2C916.9,835 926.7,849.7 934.3,861.3C941.9,872.9 949.8,882.6 956.4,889.7C963,896.8 970.9,901.5 973.8,903.9L1005,903L1005,534Z" fill="#95C3E3"/>
<path d="M979.4,531.7L981.7,527.3L984.1,522.8L986.5,518.5L989.0,514.1L991.5,509.8L994.1,505.5L996.8,501.2L999.5,497.0L1002.3,492.8L1005.2,488.7L1008.1,484.6L1011.0,480.5L1014.1,476.5L1017.2,472.5L1020.3,468.6L1023.5,464.7L1026.8,460.9L1030.1,457.1L1033.5,453.3L1036.9,449.6L1040.4,446.0L1043.9,442.4L1047.5,438.8L1051.2,435.4L1054.9,431.9L1058.6,428.5L1062.4,425.2L1066.2,421.9L1070.1,418.7L1074.1,415.6L1078.0,412.5L1082.1,409.5L1086.1,406.5L1090.2,403.6L1094.4,400.7L1098.6,397.9L1102.8,395.2L1107.1,392.5L1111.4,389.9L1115.8,387.4L1120.1,384.9L1124.6,382.5L1129.0,380.1L1133.5,377.9L1138.0,375.6L1142.5,373.5L1147.1,371.3L1151.6,369.3L1156.2,367.3L1160.9,365.4L1165.5,363.5L1170.2,361.7L1174.9,360.0L1179.6,358.3L1184.3,356.6L1189.1,355.1L1193.9,353.5L1198.6,352.1L1203.4,350.7L1208.2,349.3L1213.1,348.0L1217.9,346.8L1222.7,345.6L1227.6,344.5L1232.5,343.4L1237.4,342.4L1242.2,341.4L1247.1,340.5L1252.0,339.6L1257.0,338.8L1261.9,338.0L1266.8,337.3L1271.8,336.6L1276.7,336.0L1281.7,335.4L1286.6,334.9L1291.6,334.5L1296.6,334.1L1301.5,333.8L1306.5,333.5L1311.5,333.2L1316.5,333.1L1321.5,333.0L1326.5,332.9L1331.5,332.9L1336.5,332.9L1341.5,333.1L1346.5,333.2L1351.5,333.5L1356.5,333.7L1361.5,334.1L1366.4,334.5L1371.4,335.0L1376.4,335.5L1381.4,336.1L1386.4,336.7L1391.4,337.4L1396.3,338.2L1401.3,339.0L1406.2,339.9L1411.2,340.9L1416.1,341.9L1421.0,343.0L1425.9,344.1L1430.8,345.3L1435.7,346.6L1440.6,347.9L1445.4,349.3L1450.3,350.8L1455.1,352.3L1459.9,353.9L1464.7,355.5L1469.4,357.2L1474.2,359.0L1478.9,360.8L1483.6,362.7L1488.3,364.7L1492.9,366.7L1497.5,368.8L1502.1,371.0L1506.7,373.2L1511.2,375.5L1515.8,377.8L1520.2,380.2L1524.7,382.7L1529.1,385.2L1533.5,387.8L1537.8,390.5L1542.1,393.2L1546.4,396.0L1550.6,398.8L1554.8,401.7L1559.0,404.7L1563.1,407.7L1567.1,410.8L1571.2,413.9L1575.1,417.1L1579.1,420.4L1582.9,423.7L1586.8,427.1L1590.6,430.5L1594.3,434.0L1598.0,437.5L1601.6,441.1L1605.2,444.7L1608.7,448.4L1612.1,452.2L1615.6,456.0L1618.9,459.8L1622.2,463.7L1625.5,467.6L1628.7,471.6L1631.8,475.6L1634.9,479.7L1638.0,483.8L1640.9,487.9L1643.9,492.1L1646.7,496.3L1649.6,500.5L1652.4,504.8L1655.1,509.1L1657.7,513.4L1660.4,517.8L1662.9,522.2L1665.5,526.6L1667.9,531.1L1670.4,535.6L1672.7,540.1L1675.1,544.6L1677.4,549.1L1679.6,553.7L1681.8,558.3L1683.9,562.9L1686.0,567.6L1688.1,572.3L1690.1,577.0L1692.0,581.7L1693.9,586.4L1695.8,591.2L1697.6,596.0L1699.3,600.8L1701.0,605.6L1702.6,610.5L1704.2,615.3L1705.7,620.2L1707.1,625.1L1708.5,630.1L1709.9,635.0L1711.1,640.0L1712.3,645.0L1713.5,650.0L1714.6,655.0L1715.6,660.0L1716.5,665.1L1717.4,670.2L1718.2,675.2L1719.0,680.3L1719.7,685.5L1720.3,690.6L1720.8,695.7L1721.3,700.8L1721.7,706.0L1722.0,711.1L1722.2,716.3L1722.4,721.5L1722.5,726.6L1722.5,731.8L1722.5,737.0L1722.3,742.1L1722.1,747.3L1721.9,752.5L1721.5,757.6L1726.0,772.0L1731.0,782.0L1740.0,792.0L1745.0,800.0L1745.0,870.0L1724.3,874.7L1700.0,878.0L1690.0,884.0L1683.3,895.7L1681.0,900.4L1678.5,905.0L1676.0,909.6L1673.5,914.2L1670.8,918.7L1668.1,923.2L1665.4,927.6L1662.6,932.0L1659.7,936.4L1656.8,940.7L1653.8,945.0L1650.8,949.2L1647.7,953.4L1644.5,957.5L1641.3,961.6L1638.1,965.7L1634.7,969.7L1631.4,973.6L1627.9,977.6L1624.5,981.4L1620.9,985.2L1617.4,989.0L1613.7,992.7L1610.1,996.4L1606.3,1000.0L1602.6,1003.6L1598.8,1007.1L1594.9,1010.5L1591.0,1013.9L1587.1,1017.3L1583.1,1020.6L1579.0,1023.8L1575.0,1027.0L1570.9,1030.1L1566.7,1033.2L1562.5,1036.2L1558.3,1039.2L1554.1,1042.1L1549.8,1044.9L1545.4,1047.7L1541.1,1050.4L1536.7,1053.1L1532.2,1055.7L1527.8,1058.3L1523.3,1060.8L1518.8,1063.2L1514.2,1065.6L1509.6,1067.9L1505.0,1070.1L1500.4,1072.3L1495.8,1074.4L1491.1,1076.5L1486.4,1078.5L1481.6,1080.5L1476.9,1082.3L1472.1,1084.2L1467.3,1085.9L1462.5,1087.6L1457.7,1089.3L1452.9,1090.8L1448.0,1092.4L1443.1,1093.8L1438.2,1095.2L1433.3,1096.5L1428.4,1097.8L1423.5,1099.0L1418.5,1100.1L1413.6,1101.2L1408.6,1102.2L1403.6,1103.2L1398.6,1104.1L1393.6,1104.9L1388.6,1105.7L1383.6,1106.4L1378.6,1107.0L1373.6,1107.6L1368.5,1108.2L1363.5,1108.6L1358.5,1109.0L1353.4,1109.4L1348.4,1109.6L1343.3,1109.9L1338.3,1110.0L1333.3,1110.1L1328.2,1110.2L1323.2,1110.1L1318.1,1110.1L1313.1,1109.9L1308.1,1109.7L1303.0,1109.4L1298.0,1109.1L1293.0,1108.7L1288.0,1108.3L1283.0,1107.8L1278.0,1107.2L1273.0,1106.6L1268.0,1106.0L1263.0,1105.2L1258.0,1104.4L1253.1,1103.6L1248.1,1102.7L1243.2,1101.7L1238.3,1100.6L1233.4,1099.6L1228.5,1098.4L1223.6,1097.2L1218.7,1095.9L1213.9,1094.6L1209.0,1093.2L1204.2,1091.8L1199.4,1090.3L1194.6,1088.7L1189.9,1087.1L1185.1,1085.4L1180.4,1083.7L1175.7,1081.9L1171.0,1080.1L1166.3,1078.2L1161.7,1076.2L1157.1,1074.2L1152.5,1072.1L1147.9,1070.0L1143.4,1067.8L1138.9,1065.5L1134.4,1063.2L1129.9,1060.9L1125.5,1058.5L1121.1,1056.0L1116.7,1053.5L1112.4,1050.9L1108.1,1048.3L1103.8,1045.6L1099.5,1042.8L1095.3,1040.0L1091.1,1037.2L1087.0,1034.3L1082.9,1031.3L1078.8,1028.3L1074.8,1025.3L1070.8,1022.2L1066.8,1019.0L1062.9,1015.8L1059.0,1012.5L1055.1,1009.2L1051.3,1005.9L1047.6,1002.5L1043.8,999.0L1040.2,995.5L1036.5,991.9L1032.9,988.3L1029.4,984.7L1025.9,981.0L1022.4,977.3L1019.0,973.5L1015.7,969.7L1012.4,965.8L1009.1,961.9L1005.9,957.9L1002.7,953.9L999.6,949.9L996.5,945.8L993.5,941.6L990.5,937.5L987.6,933.3L984.8,929.0L982.0,924.7L979.2,920.4L976.5,916.1L973.9,911.7L971.3,907.2L972.5,906.6C971.2,903.5 967.3,894 965,888C962.7,882 960.4,875.9 958.5,870.5C956.6,865.1 955,860.5 953.5,855.5C952,850.5 950.8,845.3 949.6,840.5C948.4,835.7 947.2,831.5 946.3,826.9C945.4,822.3 944.4,817.4 944.2,812.7C944,808 944,802.6 944.9,798.5C945.8,794.4 947.5,790.2 949.9,787.8C952.3,785.4 956,783.9 959.1,783.9C962.2,783.9 966.3,785.4 968.4,787.8C970.5,790.2 970.9,794.4 971.9,798.5C972.9,802.6 973.7,810.3 974.1,812.7L1000,780L1000,660L973.4,632.7C972.8,634.6 971.1,641.1 969.8,644.1C968.5,647.1 967.3,649 965.5,650.5C963.7,652 961.2,653.3 959.1,653.3C957,653.3 954.5,652.1 952.7,650.5C950.9,648.9 949.4,646.4 948.5,643.4C947.6,640.4 947.4,636.9 947.4,632.7C947.4,628.5 947.7,622.8 948.2,618C948.7,613.2 949.6,608.5 950.5,604C951.4,599.5 952.5,595.3 953.8,591C955,586.7 956.4,582.5 958,578C959.6,573.5 961.5,569 963.5,564C965.5,559 967.7,553.6 970,548C972.3,542.4 976,533.4 977.2,530.5Z" fill="#E99210" stroke="#F6E4CC" stroke-width="1.2" stroke-opacity="0.85"/>
<path d="M1010,548L1030,538L1060,540L1074,602L1040,598L1003,588Z" fill="#EA7455"/>
<path d="M1000,845L1076,824L1056,895L1020,905L1005,860Z" fill="#EA7455"/>
<path d="M1009,533.7C1010.2,533.8 1011.9,534 1013,535C1014.1,536 1015.5,537.6 1015.4,540C1015.3,542.4 1013.5,545.3 1012.2,549.5C1010.9,553.7 1008.7,560.6 1007.4,565.4C1006.1,570.1 1005.5,573.1 1004.3,578C1003.1,582.9 1002.4,586.3 1000,595C997.6,603.7 993.3,620.8 990,630C986.7,639.2 982.8,649.5 980,650C977.2,650.5 973.9,638 973.4,632.7C972.9,627.5 975.7,623.2 976.9,618.5C978.1,613.8 979.5,609 980.5,604.2C981.5,599.5 981.7,593.8 982.6,590C983.5,586.2 984.6,585.3 986.1,581.2C987.6,577.1 989.8,570.7 991.6,565.4C993.5,560.1 995.4,554.2 997.2,549.5C999.1,544.8 1001.3,539.4 1002.7,536.9C1004.1,534.4 1004.5,534.8 1005.5,534.3C1006.5,533.8 1007.8,533.6 1009,533.7Z" fill="#ECB494" stroke="#F6E4CC" stroke-width="1.2" stroke-opacity="0.85"/>
<path d="M1005.5,916.8C1004.7,915.9 1002.4,915.1 1000.8,911.5C999.2,907.9 998.1,902 996.1,895.4C994.1,888.8 991,880.4 988.5,871.7C986,863 982.8,850.7 980.9,843.2C979,835.7 977.8,831.2 976.9,826.9C976,822.6 975.7,820 975.2,817.6C974.7,815.2 974.3,813.5 974.1,812.7L990,800L1004.6,848.9C1005.1,850.3 1006,852.8 1007.4,857.4C1008.8,862 1011.2,869.9 1013.1,876.4C1015,882.9 1018.2,892.4 1018.8,896.4C1019.4,900.4 1018.2,897.7 1016.9,900.1C1015.6,902.5 1013.1,907.8 1011.2,910.6C1009.3,913.4 1006.5,915.8 1005.5,916.8Z" fill="#ECB494" stroke="#F6E4CC" stroke-width="1.2" stroke-opacity="0.85"/>
<path d="M1058,549.5L1072.3,597.8L1070,640L1080,780L1074.8,828L1053,888.8L1058.7,904.9L1100,905L1160,720L1100,530L1062,515L1056,530Z" fill="#ECB494" stroke="#F6E4CC" stroke-width="1.2" stroke-opacity="0.85"/>
<path d="M1015.4,540C1016.2,540.8 1018.1,542.1 1020.1,544.8C1022.1,547.4 1024.7,553.1 1027.2,555.9C1029.7,558.7 1032.5,560.8 1035.1,561.4C1037.7,562 1040.4,561 1043,559.8C1045.6,558.6 1048.5,556.8 1050.9,554.3C1053.3,551.8 1055.8,548.2 1057.3,544.8C1058.8,541.4 1059.1,538.2 1059.6,533.7C1060.1,529.2 1060.3,520.5 1060.4,517.9L1060,500L1030,498L1016,515L1014,532Z" fill="#E99210"/>
<path d="M1015.4,540C1016.2,540.8 1018.1,542.1 1020.1,544.8C1022.1,547.4 1024.7,553.1 1027.2,555.9C1029.7,558.7 1032.5,560.8 1035.1,561.4C1037.7,562 1040.4,561 1043,559.8C1045.6,558.6 1048.5,556.8 1050.9,554.3C1053.3,551.8 1055.8,548.2 1057.3,544.8C1058.8,541.4 1059.1,538.2 1059.6,533.7C1060.1,529.2 1060.3,520.5 1060.4,517.9" fill="none" stroke="#F6E4CC" stroke-width="1.2" stroke-opacity="0.85"/>
<path d="M1011.2,910.6C1012.2,908.9 1015.6,902.5 1016.9,900.1C1018.2,897.7 1017.2,898.6 1018.8,896.4C1020.4,894.2 1023.9,889 1026.4,886.9C1028.9,884.8 1031.6,884.1 1034,883.5C1036.4,882.9 1038.3,882.7 1040.7,883.1C1043.1,883.5 1045.9,884.2 1048.3,885.9C1050.7,887.6 1053.2,890.3 1054.9,893.5C1056.6,896.7 1057.9,899.6 1058.7,904.9C1059.5,910.1 1059.7,918.3 1059.6,925C1059.5,931.7 1058.3,941.7 1058,945L1040,955L1010,940L1006,921Z" fill="#E99210"/>
<path d="M1011.2,910.6C1012.2,908.9 1015.6,902.5 1016.9,900.1C1018.2,897.7 1017.2,898.6 1018.8,896.4C1020.4,894.2 1023.9,889 1026.4,886.9C1028.9,884.8 1031.6,884.1 1034,883.5C1036.4,882.9 1038.3,882.7 1040.7,883.1C1043.1,883.5 1045.9,884.2 1048.3,885.9C1050.7,887.6 1053.2,890.3 1054.9,893.5C1056.6,896.7 1057.9,899.6 1058.7,904.9C1059.5,910.1 1059.7,918.3 1059.6,925C1059.5,931.7 1058.3,941.7 1058,945" fill="none" stroke="#F6E4CC" stroke-width="1.2" stroke-opacity="0.85"/>
<path d="M1024.0,576.2L1026.7,576.1L1029.5,576.2L1032.2,576.4L1034.9,576.8L1037.5,577.4L1040.2,578.1L1042.8,579.0L1045.3,580.0L1047.8,581.1L1050.3,582.3L1052.8,583.7L1055.2,585.2L1057.5,586.7L1059.9,588.4L1062.2,590.2L1064.4,592.1L1066.6,594.0L1068.8,596.0L1070.9,598.1L1073.0,600.2L1075.1,602.5L1077.1,604.7L1079.0,607.0L1081.0,609.3L1082.8,611.7L1084.6,614.1L1086.4,616.5L1088.1,619.0L1089.8,621.5L1091.4,624.0L1093.0,626.5L1094.6,629.1L1096.0,631.7L1097.5,634.3L1098.9,636.9L1100.2,639.5L1101.5,642.2L1102.8,644.8L1104.0,647.5L1105.1,650.2L1106.2,652.9L1107.3,655.7L1108.3,658.4L1109.2,661.2L1110.1,663.9L1111.0,666.7L1111.8,669.4L1112.5,672.2L1113.2,675.0L1113.8,677.8L1114.4,680.6L1115.0,683.4L1115.5,686.1L1115.9,688.9L1116.3,691.7L1116.7,694.5L1116.9,697.3L1117.2,700.1L1117.4,702.8L1117.5,705.6L1117.6,708.4L1117.6,711.2L1117.6,714.0L1117.6,716.8L1117.5,719.5L1117.3,722.3L1117.1,725.1L1116.8,727.9L1116.5,730.7L1116.2,733.5L1115.8,736.3L1115.3,739.1L1114.8,741.9L1114.3,744.7L1113.7,747.5L1113.1,750.3L1112.4,753.1L1111.7,755.9L1110.9,758.7L1110.1,761.5L1109.2,764.3L1108.3,767.1L1107.4,770.0L1106.4,772.8L1105.3,775.6L1104.3,778.5L1103.1,781.3L1101.9,784.1L1100.7,787.0L1099.5,789.8L1098.2,792.6L1096.8,795.4L1095.4,798.1L1094.0,800.9L1092.5,803.6L1090.9,806.2L1089.4,808.9L1087.7,811.5L1086.1,814.0L1084.4,816.5L1082.6,818.9L1080.8,821.3L1078.9,823.6L1077.0,825.8L1075.1,828.0L1073.1,830.1L1071.0,832.1L1068.9,834.0L1066.8,835.9L1064.6,837.6L1062.3,839.3L1060.1,840.8L1057.7,842.2L1055.3,843.6L1052.9,844.8L1050.4,845.9L1047.9,846.8L1045.3,847.7L1042.7,848.4L1040.0,849.0L1037.3,849.4L1034.6,849.8L1031.8,850.0L1029.0,850.0L1026.3,850.0L1023.5,849.8L1020.7,849.4L1018.0,849.0L1015.3,848.4L1012.6,847.7L1009.9,846.8L1007.3,845.8L1004.8,844.7L1002.3,843.5L999.8,842.1L997.5,840.6L995.2,838.9L993.1,837.2L991.0,835.3L989.0,833.3L987.2,831.1L985.4,828.8L983.8,826.4L982.3,823.9L980.9,821.3L979.6,818.6L978.3,815.8L977.2,813.0L976.2,810.1L975.2,807.2L974.3,804.2L973.4,801.2L972.6,798.3L971.9,795.3L971.2,792.3L970.6,789.3L970.0,786.4L969.4,783.5L968.9,780.5L968.4,777.6L968.0,774.7L967.6,771.8L967.3,768.9L966.9,766.0L966.6,763.2L966.4,760.3L966.1,757.4L965.9,754.6L965.8,751.7L965.6,748.9L965.5,746.1L965.4,743.2L965.3,740.4L965.2,737.5L965.2,734.7L965.1,731.9L965.1,729.0L965.1,726.2L965.1,723.3L965.1,720.5L965.1,717.6L965.1,714.8L965.2,711.9L965.2,709.0L965.2,706.2L965.3,703.3L965.3,700.4L965.4,697.5L965.4,694.6L965.5,691.7L965.6,688.8L965.7,685.9L965.8,683.0L965.9,680.1L966.1,677.2L966.2,674.3L966.4,671.4L966.7,668.5L966.9,665.5L967.2,662.6L967.5,659.7L967.8,656.8L968.1,653.9L968.5,651.0L968.9,648.1L969.4,645.2L969.9,642.3L970.4,639.4L971.0,636.6L971.6,633.7L972.3,630.8L973.0,628.0L973.7,625.1L974.5,622.3L975.3,619.4L976.3,616.6L977.2,613.9L978.3,611.1L979.4,608.5L980.7,605.8L982.0,603.3L983.4,600.8L985.0,598.4L986.6,596.0L988.4,593.8L990.3,591.7L992.4,589.7L994.6,587.8L996.9,586.0L999.4,584.3L1001.9,582.8L1004.5,581.5L1007.2,580.2L1009.9,579.2L1012.7,578.2L1015.5,577.5L1018.3,576.9L1021.2,576.4L1024.0,576.2Z" fill="#C4E4F5" stroke="#E6F3FA" stroke-width="1.5"/>
<path d="M1134.0,402.5L1136.6,400.5L1139.0,398.4L1143.3,395.9L1147.7,393.5L1152.1,391.2L1156.5,388.9L1160.9,386.6L1165.4,384.5L1169.9,382.4L1174.4,380.3L1179.0,378.3L1183.6,376.4L1188.2,374.5L1192.8,372.7L1197.5,371.0L1202.2,369.3L1206.9,367.7L1211.7,366.1L1216.4,364.6L1221.2,363.2L1226.0,361.8L1230.8,360.5L1235.6,359.3L1240.5,358.1L1245.4,357.0L1250.2,356.0L1255.1,355.0L1260.0,354.1L1265.0,353.3L1269.9,352.5L1274.9,351.8L1279.8,351.1L1284.8,350.6L1289.8,350.1L1294.7,349.6L1299.7,349.2L1304.7,348.9L1309.7,348.7L1314.7,348.5L1319.7,348.4L1324.7,348.4L1329.7,348.4L1334.7,348.5L1339.7,348.7L1344.7,348.9L1349.8,349.2L1354.8,349.5L1359.7,350.0L1364.7,350.5L1369.7,351.0L1374.7,351.7L1379.7,352.4L1384.6,353.1L1389.6,354.0L1394.5,354.9L1399.4,355.8L1404.3,356.9L1409.2,358.0L1414.1,359.1L1419.0,360.4L1423.9,361.7L1428.7,363.0L1433.5,364.5L1438.3,365.9L1443.1,367.5L1447.9,369.1L1452.6,370.8L1457.3,372.6L1462.0,374.4L1466.7,376.3L1471.3,378.2L1475.9,380.2L1480.5,382.3L1485.1,384.4L1489.6,386.6L1494.1,388.8L1498.6,391.1L1503.0,393.5L1507.5,395.9L1511.8,398.4L1516.2,401.0L1520.5,403.6L1524.8,406.3L1529.0,409.0L1533.2,411.8L1537.4,414.6L1541.5,417.5L1545.6,420.5L1549.7,423.5L1553.7,426.5L1557.7,429.6L1561.6,432.8L1565.5,436.0L1569.3,439.3L1573.1,442.6L1576.9,446.0L1580.6,449.4L1584.3,452.9L1587.9,456.4L1591.4,460.0L1595.0,463.7L1598.4,467.3L1601.9,471.0L1605.2,474.8L1608.6,478.6L1611.8,482.5L1615.1,486.4L1618.2,490.3L1621.3,494.3L1624.4,498.4L1627.4,502.4L1630.4,506.5L1633.3,510.7L1636.1,514.9L1638.9,519.1L1641.6,523.4L1644.3,527.7L1646.9,532.0L1649.4,536.4L1651.9,540.8L1654.4,545.3L1656.7,549.7L1659.1,554.2L1661.3,558.8L1663.5,563.4L1665.6,568.0L1667.7,572.6L1669.7,577.2L1671.6,581.9L1673.5,586.6L1675.3,591.4L1677.1,596.1L1678.8,600.9L1680.4,605.7L1682.0,610.6L1683.5,615.4L1684.9,620.3L1686.3,625.2L1687.5,630.1L1688.8,635.0L1689.9,639.9L1691.0,644.9L1692.1,649.9L1693.0,654.9L1693.9,659.9L1694.8,664.9L1695.5,669.9L1696.2,674.9L1696.8,680.0L1697.4,685.0L1697.9,690.1L1698.3,695.1L1698.6,700.2L1698.9,705.3L1699.1,710.4L1699.3,715.4L1699.4,720.5L1699.4,725.6L1699.3,730.7L1699.2,735.8L1699.0,740.8L1698.7,745.9L1702.2,769.7L1707.0,778.0L1714.1,783.9L1730.0,789.5L1760.0,789.0L1815.0,788.6L1815.0,923.0L1764.6,899.6L1726.7,878.3L1707.7,871.0L1698.0,864.0L1690.0,863.5L1679.0,866.0L1669.3,871.0L1667.3,875.7L1665.2,880.3L1663.1,884.9L1660.9,889.5L1658.6,894.0L1656.3,898.5L1653.9,903.0L1651.5,907.4L1648.9,911.8L1646.4,916.2L1643.8,920.6L1641.1,924.9L1638.3,929.1L1635.5,933.4L1632.7,937.6L1629.8,941.7L1626.8,945.8L1623.8,949.9L1620.7,954.0L1617.5,957.9L1614.4,961.9L1611.1,965.8L1607.8,969.7L1604.5,973.5L1601.1,977.3L1597.6,981.0L1594.1,984.7L1590.6,988.3L1587.0,991.9L1583.4,995.4L1579.7,998.9L1575.9,1002.3L1572.2,1005.7L1568.3,1009.0L1564.5,1012.3L1560.6,1015.5L1556.6,1018.7L1552.6,1021.8L1548.6,1024.9L1544.5,1027.9L1540.4,1030.9L1536.2,1033.7L1532.0,1036.6L1527.8,1039.4L1523.5,1042.1L1519.2,1044.8L1514.8,1047.4L1510.4,1049.9L1506.0,1052.4L1501.6,1054.8L1497.1,1057.2L1492.6,1059.5L1488.1,1061.8L1483.5,1064.0L1478.9,1066.1L1474.3,1068.1L1469.6,1070.1L1464.9,1072.1L1460.2,1073.9L1455.5,1075.7L1450.7,1077.5L1446.0,1079.2L1441.2,1080.8L1436.3,1082.3L1431.5,1083.8L1426.7,1085.2L1421.8,1086.6L1416.9,1087.9L1412.0,1089.1L1407.1,1090.2L1402.1,1091.3L1397.2,1092.3L1392.2,1093.3L1387.2,1094.2L1382.2,1095.0L1377.2,1095.7L1372.2,1096.4L1367.2,1097.0L1362.2,1097.6L1357.2,1098.0L1352.1,1098.4L1347.1,1098.8L1342.0,1099.0L1337.0,1099.3L1332.0,1099.4L1326.9,1099.5L1321.9,1099.4L1316.8,1099.4L1311.8,1099.2L1306.7,1099.0L1301.7,1098.8L1296.7,1098.4L1291.7,1098.0L1286.6,1097.5L1281.6,1097.0L1276.6,1096.4L1271.6,1095.7L1266.7,1094.9L1261.7,1094.1L1256.7,1093.2L1251.8,1092.3L1246.9,1091.3L1242.0,1090.2L1237.1,1089.0L1232.2,1087.8L1227.3,1086.5L1222.5,1085.2L1217.7,1083.8L1212.9,1082.3L1208.1,1080.7L1203.3,1079.1L1198.6,1077.5L1193.9,1075.7L1189.2,1073.9L1184.5,1072.1L1179.9,1070.2L1175.3,1068.2L1170.7,1066.1L1166.2,1064.0L1161.6,1061.8L1157.2,1059.6L1152.7,1057.3L1148.3,1055.0L1143.9,1052.6L1139.5,1050.1L1131.0,1045.0L1128.0,1042.0L1300.0,720.0Z" fill="#EDD84B" stroke="#F6E4CC" stroke-width="1.2" stroke-opacity="0.85"/>
<path d="M1134.0,401.8L1146.3,404.0L1150.8,401.6L1155.3,399.3L1159.8,397.0L1164.4,394.8L1169.0,392.7L1173.6,390.7L1178.3,388.7L1183.0,386.7L1187.7,384.9L1192.4,383.1L1197.2,381.3L1201.9,379.7L1206.7,378.1L1211.6,376.5L1216.4,375.1L1221.3,373.7L1226.2,372.4L1231.1,371.1L1236.0,369.9L1240.9,368.8L1245.9,367.7L1250.8,366.8L1255.8,365.8L1260.8,365.0L1265.8,364.2L1270.8,363.5L1275.8,362.9L1280.8,362.3L1285.9,361.8L1290.9,361.4L1296.0,361.1L1301.0,360.8L1306.1,360.6L1311.1,360.4L1316.2,360.4L1321.2,360.4L1326.3,360.4L1331.3,360.6L1336.4,360.8L1341.4,361.1L1346.5,361.4L1351.5,361.8L1356.6,362.3L1361.6,362.9L1366.6,363.5L1371.6,364.2L1376.6,365.0L1381.6,365.9L1386.5,366.8L1391.5,367.7L1396.4,368.8L1401.4,369.9L1406.3,371.1L1411.2,372.4L1416.0,373.7L1420.9,375.1L1425.7,376.5L1430.6,378.1L1435.3,379.7L1440.1,381.3L1444.9,383.1L1449.6,384.8L1454.3,386.7L1458.9,388.6L1463.6,390.6L1468.2,392.7L1472.8,394.8L1477.3,397.0L1481.9,399.2L1486.3,401.5L1490.8,403.9L1495.2,406.3L1499.6,408.8L1504.0,411.4L1508.3,414.0L1512.6,416.7L1516.8,419.4L1521.0,422.2L1525.2,425.0L1529.3,427.9L1533.4,430.9L1537.4,433.9L1541.4,437.0L1545.4,440.1L1549.3,443.3L1553.2,446.6L1557.0,449.9L1560.7,453.2L1564.5,456.6L1568.2,460.1L1571.8,463.6L1575.4,467.1L1578.9,470.7L1582.4,474.4L1585.8,478.1L1589.2,481.8L1592.5,485.6L1595.8,489.5L1599.0,493.3L1602.1,497.3L1605.3,501.2L1608.3,505.3L1611.3,509.3L1614.2,513.4L1617.1,517.6L1619.9,521.7L1622.7,526.0L1625.4,530.2L1628.1,534.5L1630.6,538.8L1633.2,543.2L1635.6,547.6L1638.0,552.0L1640.4,556.5L1642.6,561.0L1644.9,565.5L1647.0,570.1L1649.1,574.7L1651.1,579.3L1653.1,583.9L1655.0,588.6L1656.8,593.3L1658.6,598.0L1660.3,602.8L1661.9,607.5L1663.4,612.3L1664.9,617.1L1666.4,622.0L1667.7,626.8L1669.0,631.7L1670.2,636.6L1671.4,641.5L1672.5,646.4L1673.5,651.4L1674.5,656.3L1675.3,661.3L1676.2,666.2L1676.9,671.2L1677.6,676.2L1678.2,681.2L1678.7,686.2L1679.2,691.3L1679.6,696.3L1679.9,701.3L1680.2,706.3L1679.7,730.0L1680.2,750.0L1681.3,770.0L1683.0,785.0L1686.0,800.5L1692.8,817.0L1702.2,826.6L1694.0,827.5L1685.0,830.0L1672.0,840.0L1660.0,855.0L1645.3,878.0L1643.1,882.5L1640.8,887.0L1638.5,891.5L1636.1,896.0L1633.6,900.4L1631.1,904.8L1628.5,909.2L1625.8,913.5L1623.1,917.8L1620.4,922.0L1617.5,926.2L1614.6,930.4L1611.7,934.5L1608.7,938.6L1605.6,942.7L1602.5,946.7L1599.4,950.6L1596.1,954.5L1592.9,958.4L1589.5,962.2L1586.1,966.0L1582.7,969.7L1579.2,973.4L1575.7,977.0L1572.1,980.6L1568.4,984.2L1564.7,987.6L1561.0,991.1L1557.2,994.4L1553.4,997.8L1549.5,1001.0L1545.6,1004.3L1541.6,1007.4L1537.6,1010.5L1533.5,1013.6L1529.4,1016.6L1525.3,1019.5L1521.1,1022.4L1516.9,1025.2L1512.6,1027.9L1508.3,1030.6L1504.0,1033.3L1499.6,1035.9L1495.2,1038.4L1490.7,1040.8L1486.3,1043.2L1481.7,1045.6L1477.2,1047.8L1472.6,1050.0L1468.0,1052.2L1463.4,1054.2L1458.7,1056.3L1454.0,1058.2L1449.3,1060.1L1444.5,1061.9L1439.7,1063.6L1434.9,1065.3L1430.1,1066.9L1425.3,1068.5L1420.4,1070.0L1415.5,1071.4L1410.6,1072.7L1405.7,1074.0L1400.7,1075.2L1395.8,1076.3L1390.8,1077.4L1385.8,1078.4L1380.8,1079.3L1375.8,1080.2L1370.8,1081.0L1365.7,1081.7L1360.7,1082.4L1355.6,1082.9L1350.5,1083.4L1345.5,1083.9L1340.4,1084.2L1335.3,1084.5L1330.2,1084.8L1325.1,1084.9L1320.0,1085.0L1314.9,1085.0L1309.8,1085.0L1304.7,1084.8L1299.6,1084.6L1294.5,1084.3L1289.4,1084.0L1284.3,1083.6L1279.3,1083.1L1274.2,1082.5L1269.1,1081.9L1264.1,1081.2L1259.0,1080.4L1254.0,1079.6L1248.9,1078.7L1243.9,1077.7L1238.9,1076.7L1233.9,1075.5L1229.0,1074.4L1224.0,1073.1L1219.1,1071.8L1214.2,1070.4L1209.3,1068.9L1204.4,1067.4L1199.5,1065.8L1194.7,1064.1L1189.9,1062.4L1185.1,1060.5L1180.3,1058.7L1175.6,1056.7L1170.9,1054.7L1166.2,1052.7L1161.5,1050.5L1156.9,1048.3L1152.3,1046.1L1140,1045C1138.8,1044.7 1135,1043.7 1132.8,1043C1130.5,1042.3 1131.8,1043.9 1126.5,1040.6C1121.2,1037.2 1109.6,1029.4 1101.2,1022.9C1092.8,1016.4 1081.4,1006.7 1075.9,1001.4C1070.4,996.1 1070.8,996.8 1068,991.3C1065.2,985.8 1060.8,976.2 1059,968.5C1057.2,960.8 1057.4,952.2 1057.5,945C1057.6,937.8 1059.1,931.7 1059.6,925C1060.1,918.3 1060.4,908.2 1060.6,904.9L1060.6,904.9C1060.9,903.3 1061.1,900.1 1062.5,895.4C1063.9,890.6 1066.4,882.7 1069.1,876.4C1071.8,870.1 1074.7,864.5 1078.6,857.4C1082.5,850.3 1088.7,840.7 1092.5,834C1096.3,827.3 1097.7,825.1 1101.5,817.4C1105.3,809.7 1111.3,797.6 1115.3,787.7C1119.2,777.8 1122.4,768 1125.2,758.1C1128,748.2 1130.8,738.4 1132.1,728.5C1133.4,718.6 1133.9,709.3 1133.1,698.8C1132.3,688.2 1130.2,676.7 1127.2,665.2C1124.2,653.7 1119.6,640.5 1115.3,629.6C1111,618.7 1105.7,608.1 1101.5,600C1097.3,591.9 1093.4,586.2 1090,581.2C1086.6,576.2 1084,574.1 1081,570.1C1078,566.1 1074.9,561.9 1072.3,557.4C1069.7,552.9 1067,547.7 1065.2,543.2C1063.4,538.7 1062,534.8 1061.2,530.6C1060.4,526.4 1060.5,520 1060.4,517.9L1060.4,517.9C1060.2,515.8 1059.7,509 1059.5,505C1059.3,501 1059.2,499 1059.5,494C1059.8,489 1060.4,480.7 1061.5,475C1062.6,469.3 1063.9,464.7 1066,460C1068.1,455.3 1070.7,451.3 1074,447C1077.3,442.7 1081.7,438.3 1086,434C1090.3,429.7 1095.2,425 1100,421C1104.8,417 1109.3,413.2 1115,410C1120.7,406.8 1130.8,403.2 1134,401.8Z" fill="url(#vg)" stroke="#EEF0E0" stroke-width="1.2" stroke-opacity="0.85"/>
<path d="M1703,826.6 L1815,853" stroke="#F6EFC8" stroke-width="1.4" fill="none"/>
<path d="M977.2,530.5C972.7,533 958.7,538.6 950,545.3C941.3,552 932.7,560.6 924.8,570.6C916.9,580.6 908.8,592.7 902.7,605.3C896.7,617.9 891.9,627.9 888.5,646.4C885.1,664.9 882.4,694.9 882.1,716C881.8,737.1 883.5,755.4 886.9,772.8C890.3,790.2 896.4,806 902.7,820.2C909,834.4 916.9,846.5 924.8,858.1C932.7,869.7 942,881.6 950,889.7C958,897.8 968.8,903.8 972.5,906.6L973.8,903.9C970.9,901.5 963,896.8 956.4,889.7C949.8,882.6 941.9,872.9 934.3,861.3C926.7,849.7 916.9,835 910.6,820.2C904.3,805.5 899.4,790.2 896.4,772.8C893.4,755.4 892.3,736 892.6,716C892.9,696 894.7,670.1 898,652.7C901.3,635.3 906.2,624.2 912.2,611.6C918.2,599 926.9,586.9 934.3,576.9C941.7,566.9 949,558.7 956.4,551.6C963.8,544.5 974.8,537.1 978.5,534.2Z" fill="#FFFFFF"/>
<path d="M953.8,520.4C949,523.5 934.9,530.1 924.8,539C914.7,547.9 902.7,561.1 893.2,573.7C883.7,586.3 875.3,600 867.9,614.8C860.5,629.5 853.5,645.3 849,662.2C844.5,679.1 841.5,697.6 841,716C840.5,734.4 842.4,755.4 845.8,772.8C849.2,790.2 853.7,804.4 861.6,820.2C869.5,836 882.7,854.4 893.2,867.6C903.7,880.8 915.8,891.3 924.8,899.2C933.8,907.1 943.5,912.2 947.2,914.8L972.5,906.6C968.8,903.8 958,897.8 950,889.7C942,881.6 932.7,869.7 924.8,858.1C916.9,846.5 909,834.4 902.7,820.2C896.4,806 890.3,790.2 886.9,772.8C883.5,755.4 881.8,737.1 882.1,716C882.4,694.9 885.1,664.9 888.5,646.4C891.9,627.9 896.7,617.9 902.7,605.3C908.8,592.7 916.9,580.6 924.8,570.6C932.7,560.6 941.3,552 950,545.3C958.7,538.6 972.7,533 977.2,530.5Z" fill="#5DAFDF"/>
<path d="M1607.3,258.2C1614.6,260.3 1636,266.3 1651.2,271C1666.4,275.7 1682.8,279.9 1698.6,286.6C1714.4,293.4 1730.2,302.6 1746,311.5C1761.8,320.4 1781.2,332.4 1793.5,340C1805.8,347.6 1815.6,354.2 1820,357" fill="none" stroke="#FFF47C" stroke-width="10"/>
<path d="M1503,1089.7C1512.5,1091.1 1538.6,1095.8 1560,1098C1581.4,1100.2 1604.2,1102.3 1631.6,1103C1659,1103.7 1692.9,1103.3 1724.3,1102C1755.7,1100.7 1804,1096.2 1820,1095" fill="none" stroke="#FFF47C" stroke-width="10"/>
<path d="M1693,1193.5C1702.5,1192.9 1728.8,1191.8 1750,1190C1771.2,1188.2 1808.3,1184.2 1820,1183" fill="none" stroke="#FFF47C" stroke-width="10"/>
<rect x="1650" y="472" width="124" height="70" rx="20" fill="#FFFFFF" opacity="0.92" filter="url(#bl12)"/>
</g>
<path d="M661,460 L1618.2,529 L660,948" stroke="#333333" stroke-width="8" stroke-linecap="round" stroke-linejoin="miter" stroke-miterlimit="10" fill="none" stroke-dasharray="31.5 16.5" stroke-dashoffset="16.6"/>
<rect x="13.2" y="296.8" width="643.6" height="305.1" rx="39" fill="none" stroke="#EDD545" stroke-width="8.2"/>
<rect x="12.9" y="787.8" width="643.6" height="305" rx="39" fill="none" stroke="#EDD545" stroke-width="8.2"/>
<g filter="url(#sh)"><path d="M8.8,115.3L76.8,115.3L42.8,56.3Z" fill="url(#gt)"/><circle cx="42.8" cy="42.9" r="34" fill="url(#gc)"/><text x="42.8" y="108.1" text-anchor="middle" class="A">A</text></g>
<circle cx="527.4" cy="62.8" r="34" fill="#333333" filter="url(#sh)"/>
<g filter="url(#sh)"><path d="M971.4,90.3L1039.4,90.3L1005.4,31.8Z" fill="#333333"/><text x="1005.4" y="83.3" text-anchor="middle" class="A">A</text></g>
<g filter="url(#sh)"><path d="M71.0,470.6L139.0,470.6L105.0,411.6Z" fill="url(#gt)"/><circle cx="105" cy="398.2" r="34" fill="url(#gc)"/><text x="105.0" y="463.4" text-anchor="middle" class="A">A</text></g>
<circle cx="247.1" cy="418.9" r="34" fill="#333333" filter="url(#sh)"/>
<g filter="url(#sh)"><path d="M134.9,545.0L202.9,545.0L168.9,486.5Z" fill="#333333"/><text x="168.9" y="538.0" text-anchor="middle" class="A">A</text></g>
<g filter="url(#sh)"><path d="M318.7,545.4L386.7,545.4L352.7,486.4Z" fill="url(#gt)"/><circle cx="352.7" cy="473" r="34" fill="url(#gc)"/><text x="352.7" y="538.2" text-anchor="middle" class="A">A</text></g>
<g filter="url(#sh)"><path d="M434.8,479.3L502.8,479.3L468.8,420.3Z" fill="url(#gt)"/><circle cx="468.8" cy="406.9" r="34" fill="url(#gc)"/><text x="468.8" y="472.1" text-anchor="middle" class="A">A</text></g>
<g filter="url(#sh)"><path d="M539.0,491.3L607.0,491.3L573.0,432.3Z" fill="url(#gt)"/><circle cx="573" cy="418.9" r="34" fill="url(#gc)"/><text x="573.0" y="484.1" text-anchor="middle" class="A">A</text></g>
<circle cx="126.9" cy="876.4" r="34" fill="#333333" filter="url(#sh)"/>
<circle cx="176.9" cy="1004.8" r="34" fill="#333333" filter="url(#sh)"/>
<circle cx="328.7" cy="944.7" r="34" fill="#333333" filter="url(#sh)"/>
<circle cx="530.6" cy="894.7" r="34" fill="#333333" filter="url(#sh)"/>
<g filter="url(#sh)"><path d="M393.1,1044.1L461.1,1044.1L427.1,985.1Z" fill="url(#gt)"/><circle cx="427.1" cy="971.7" r="34" fill="url(#gc)"/><text x="427.1" y="1036.9" text-anchor="middle" class="A">A</text></g>
</svg>
<div class="t" style="left:80.9px;top:31.7px;font-size:55.73px;transform:scaleY(0.9198)">＝光の受容体</div>
<div class="t" style="left:134.4px;top:103.1px;font-size:51.73px;transform:scaleY(0.9607)">ロドプシン</div>
<div class="t" style="left:563.8px;top:29.9px;font-size:53.33px;transform:scaleY(0.9467)">＝タンパク質</div>
<div class="t" style="left:1038.2px;top:28.6px;font-size:52.93px;transform:scaleY(1.0243)">＝ビタミン<span class="la">A</span></div>
<div class="t" style="left:263.3px;top:314.3px;font-size:48.67px;transform:scaleY(0.9309)">視細胞</div>
<div class="t" style="left:62.5px;top:644.0px;font-size:53.80px;transform:scaleY(0.9512)">暗い場所でも見える人</div>
<div class="t" style="left:260.9px;top:807.2px;font-size:48.08px;transform:scaleY(0.9380)">視細胞</div>
<div class="t" style="left:35.8px;top:1134.8px;font-size:53.48px;transform:scaleY(0.9408)">暗い場所で見えづらい人</div>
<div class="t" style="left:1658.5px;top:480.9px;font-size:54.95px;transform:scaleY(0.9463)">網膜</div>
<script>
(function(){
var m=document.createElement('span');
m.style.cssText='position:absolute;left:-9999px;top:0;font-size:100px;font-family:"Liberation Sans",sans-serif;white-space:nowrap';
m.textContent='暗暗暗暗';
document.body.appendChild(m);
var w=m.getBoundingClientRect().width;
document.body.removeChild(m);
if(w<370){
var P=[[91.4, 20.4, 72.4, 0.33], [134.0, 91.0, 68.9, 2.92], [566.8, 20.0, 73.3, -0.39], [1038.1, 18.8, 73.7, -0.7], [261.9, 306.0, 62.7, 3.18], [62.4, 632.7, 73.2, -0.29], [260.3, 798.4, 62.1, 3.6], [35.7, 1123.1, 72.8, 0.02], [1657.2, 471.2, 71.8, 3.35]];
var SH='1.2px 0 0 #333,-1.2px 0 0 #333,0 1.2px 0 #333,0 -1.2px 0 #333,0.85px 0.85px 0 #333,-0.85px -0.85px 0 #333,0.85px -0.85px 0 #333,-0.85px 0.85px 0 #333';
var els=document.querySelectorAll('.t');
for(var i=0;i<els.length&&i<P.length;i++){
var e=els[i],q=P[i];
e.style.left=q[0]+'px';e.style.top=q[1]+'px';e.style.fontSize=q[2]+'px';
e.style.letterSpacing=q[3]+'px';e.style.transform='none';e.style.textShadow=SH;
var a=e.querySelector('.la');if(a){a.style.fontSize='56px';a.style.letterSpacing='0';}
}
}
})();
</script>
</body></html>
